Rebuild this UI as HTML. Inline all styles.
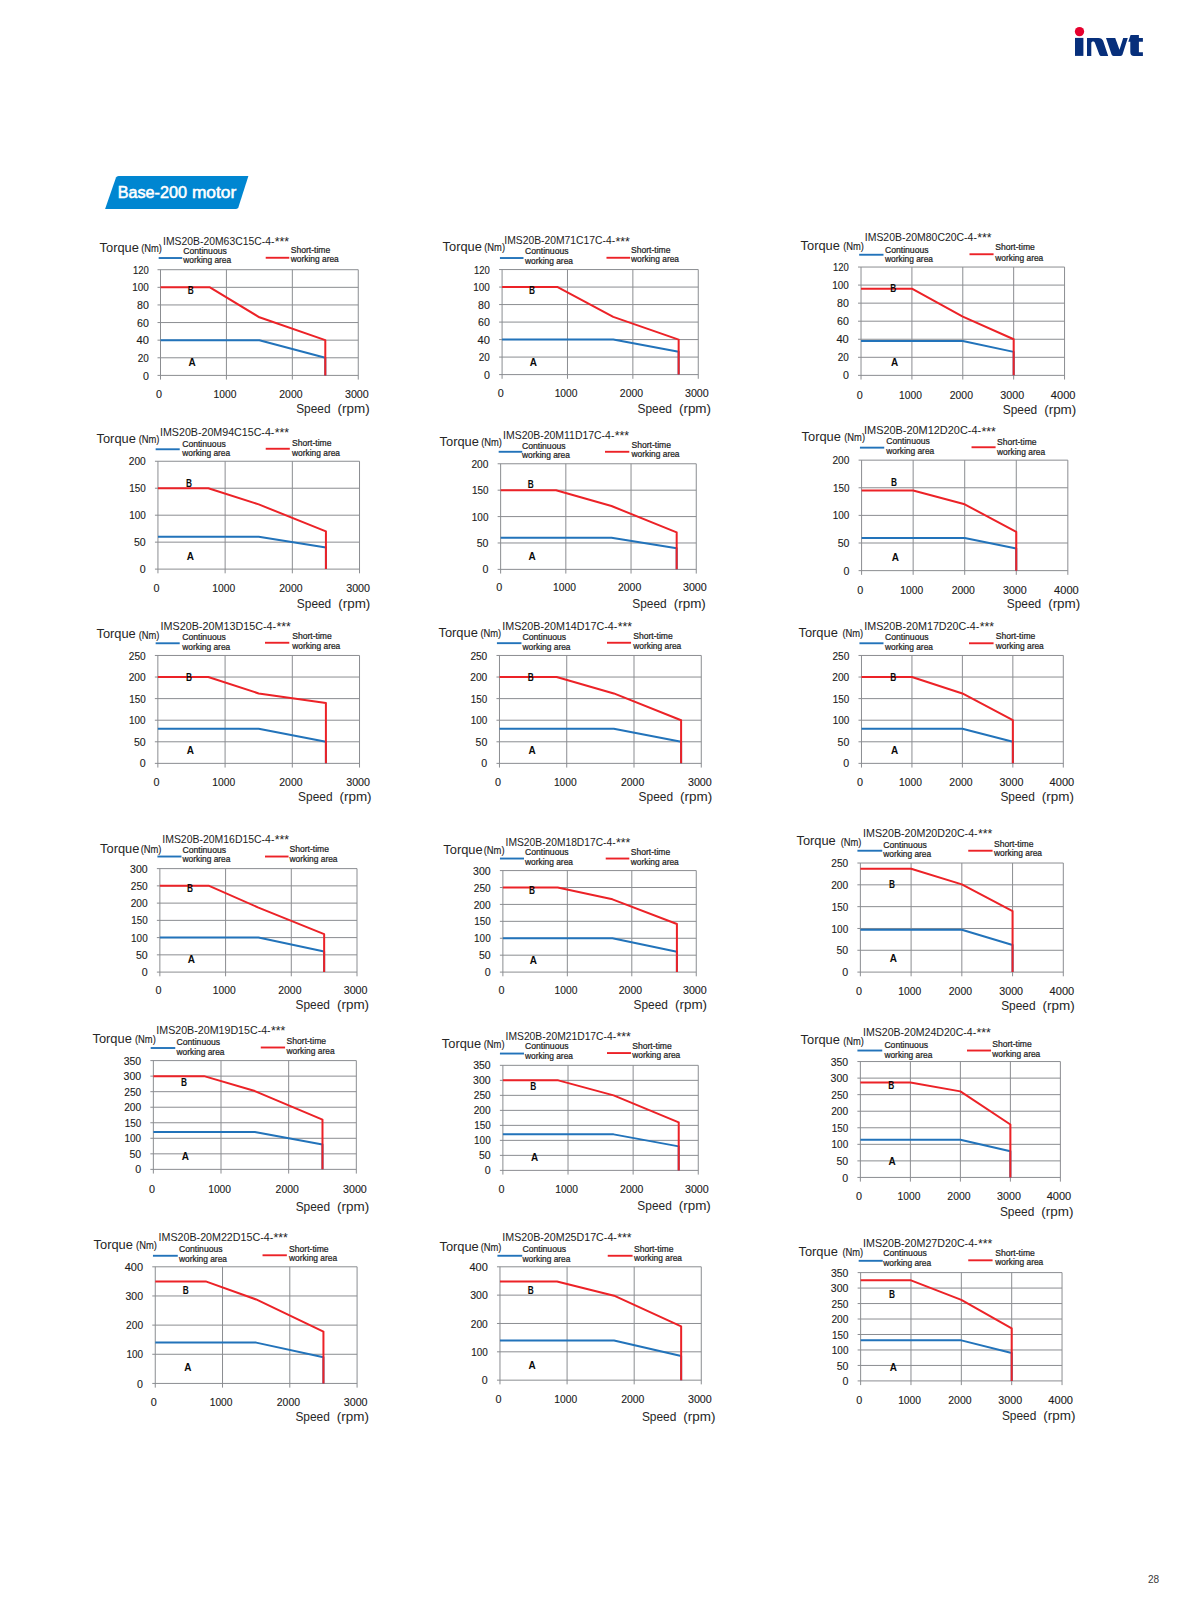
<!DOCTYPE html>
<html lang="en">
<head>
<meta charset="utf-8">
<title>Base-200 motor</title>
<style>
html,body{margin:0;padding:0;background:#fff;}
body{width:1191px;height:1614px;overflow:hidden;position:relative;font-family:"Liberation Sans",sans-serif;}
svg{position:absolute;left:0;top:0;display:block;}
svg text{font-family:"Liberation Sans",sans-serif;white-space:pre;}
</style>
</head>
<body>
<svg width="1191" height="1614" viewBox="0 0 1191 1614" fill="#1c1c1c">
<g><!-- invt logo -->
<circle cx="1079.5" cy="31.6" r="4.65" fill="#e6002d"/>
<g fill="#072f7b">
<rect x="1075" y="37.9" width="8.4" height="18"/>
<path d="M1087 37.9H1098.4C1101 37.9 1102.3 38.9 1103.1 40.8L1108.2 55.9H1100.9C1100 55.9 1099.5 55.3 1099.1 54.1L1094.9 42.8C1094.5 41.8 1094 41.4 1093.1 41.4C1092 41.4 1091.3 41.9 1091.3 43V55.9H1087Z"/>
<path d="M1106 37.9H1115.2L1119.5 49.7L1123.2 37.9H1127.8L1122.6 54.2C1122.2 55.4 1121.6 55.9 1120.4 55.9H1113.6C1112.6 55.9 1112 55.4 1111.5 54.2Z"/>
<path d="M1130.6 34.9H1138.9V38H1142.9V41.7H1138.9V52.2H1142.9V55.9H1134C1131.6 55.9 1130.3 54.6 1130.3 52V41.7H1128.3Z"/>
</g></g>
<g><!-- section badge -->
<path d="M118.6 175.9H248.4L238.4 207.3Q237.8 209.1 236 209.1H105.1L116 177.6Q116.6 175.9 118.6 175.9Z" fill="#0086d1"/>
<text y="197.6" font-size="16.4" fill="#fff" stroke="#fff" stroke-width="0.55"><tspan x="117.7" textLength="69.2" lengthAdjust="spacingAndGlyphs">Base-200</tspan> <tspan x="191.9" textLength="44.4" lengthAdjust="spacingAndGlyphs">motor</tspan></text>
</g>
<g><!-- chart 1 -->
<path d="M157.5 375.4H358.26M157.5 357.79H358.26M157.5 340.17H358.26M157.5 322.56H358.26M157.5 304.94H358.26M157.5 287.33H358.26M157.5 269.71H358.26M160.5 269.71V379.6M226.42 269.71V379.6M292.34 269.71V379.6M358.26 269.71V379.6" stroke="#8b8d91" stroke-width="1" fill="none"/>
<text x="148.9" y="379.5" font-size="10.4" text-anchor="end" textLength="5.92" lengthAdjust="spacingAndGlyphs" stroke="#1c1c1c" stroke-width="0.12">0</text>
<text x="148.9" y="361.89" font-size="10.4" text-anchor="end" textLength="11.06" lengthAdjust="spacingAndGlyphs" stroke="#1c1c1c" stroke-width="0.12">20</text>
<text x="148.9" y="344.27" font-size="10.4" text-anchor="end" textLength="12.42" lengthAdjust="spacingAndGlyphs" stroke="#1c1c1c" stroke-width="0.12">40</text>
<text x="148.9" y="326.66" font-size="10.4" text-anchor="end" textLength="11.83" lengthAdjust="spacingAndGlyphs" stroke="#1c1c1c" stroke-width="0.12">60</text>
<text x="148.9" y="309.04" font-size="10.4" text-anchor="end" textLength="11.83" lengthAdjust="spacingAndGlyphs" stroke="#1c1c1c" stroke-width="0.12">80</text>
<text x="148.9" y="291.43" font-size="10.4" text-anchor="end" textLength="16.59" lengthAdjust="spacingAndGlyphs" stroke="#1c1c1c" stroke-width="0.12">100</text>
<text x="148.9" y="273.81" font-size="10.4" text-anchor="end" textLength="15.81" lengthAdjust="spacingAndGlyphs" stroke="#1c1c1c" stroke-width="0.12">120</text>
<text x="159.1" y="397.85" font-size="10.4" text-anchor="middle" textLength="6.01" lengthAdjust="spacingAndGlyphs" stroke="#1c1c1c" stroke-width="0.12">0</text>
<text x="225.02" y="397.85" font-size="10.4" text-anchor="middle" textLength="22.85" lengthAdjust="spacingAndGlyphs" stroke="#1c1c1c" stroke-width="0.12">1000</text>
<text x="290.94" y="397.85" font-size="10.4" text-anchor="middle" textLength="23.25" lengthAdjust="spacingAndGlyphs" stroke="#1c1c1c" stroke-width="0.12">2000</text>
<text x="356.86" y="397.85" font-size="10.4" text-anchor="middle" textLength="23.84" lengthAdjust="spacingAndGlyphs" stroke="#1c1c1c" stroke-width="0.12">3000</text>
<text x="296.19" y="412.96" font-size="12.1" textLength="34.4" lengthAdjust="spacingAndGlyphs" fill="#262626">Speed</text>
<text x="337.59" y="412.96" font-size="12.1" textLength="32.1" lengthAdjust="spacingAndGlyphs" fill="#262626">(rpm)</text>
<text x="99.57" y="251.85" font-size="12.6" textLength="39.3" lengthAdjust="spacingAndGlyphs" fill="#262626">Torque</text>
<text x="141.19" y="252.05" font-size="10.1" textLength="20.8" lengthAdjust="spacingAndGlyphs" stroke="#1c1c1c" stroke-width="0.12">(Nm)</text>
<text x="163.05" y="244.79" font-size="10.5" textLength="111.34" lengthAdjust="spacingAndGlyphs">IMS20B-20M63C15C-4-</text>
<text x="274.69" y="246.09" font-size="12.6" textLength="14.3" lengthAdjust="spacingAndGlyphs">***</text>
<path d="M158.67 258.02H182.24" stroke="#2273ba" stroke-width="1.9"/>
<text x="183.2" y="253.87" font-size="8.6" textLength="43.6" lengthAdjust="spacingAndGlyphs" stroke="#1c1c1c" stroke-width="0.22">Continuous</text>
<text x="183.2" y="263.14" font-size="8.6" textLength="48" lengthAdjust="spacingAndGlyphs" stroke="#1c1c1c" stroke-width="0.22">working area</text>
<path d="M265.72 257.77H289.29" stroke="#ec2227" stroke-width="1.9"/>
<text x="290.76" y="252.87" font-size="8.6" textLength="39.5" lengthAdjust="spacingAndGlyphs" stroke="#1c1c1c" stroke-width="0.22">Short-time</text>
<text x="290.76" y="262.13" font-size="8.6" textLength="48" lengthAdjust="spacingAndGlyphs" stroke="#1c1c1c" stroke-width="0.22">working area</text>
<polyline points="160.5,340.17 259.38,340.17 325.3,357.79 325.3,375.4" stroke="#2273ba" stroke-width="2" fill="none" stroke-linejoin="round"/>
<polyline points="160.5,287.33 209.94,287.33 259.38,317.27 325.3,340.17 325.3,375.4" stroke="#ec2227" stroke-width="2" fill="none" stroke-linejoin="round"/>
<text x="190.76" y="294.02" font-size="11.4" text-anchor="middle" font-weight="bold" textLength="6" lengthAdjust="spacingAndGlyphs" fill="#0a0a0a">B</text>
<text x="192.02" y="366.06" font-size="11.4" text-anchor="middle" font-weight="bold" textLength="7.2" lengthAdjust="spacingAndGlyphs" fill="#0a0a0a">A</text>
</g>
<g><!-- chart 2 -->
<path d="M499.08 374.6H698.26M499.08 357.09H698.26M499.08 339.59H698.26M499.08 322.08H698.26M499.08 304.57H698.26M499.08 287.07H698.26M499.08 269.56H698.26M502.08 269.56V378.8M567.48 269.56V378.8M632.87 269.56V378.8M698.26 269.56V378.8" stroke="#8b8d91" stroke-width="1" fill="none"/>
<text x="489.88" y="378.7" font-size="10.4" text-anchor="end" textLength="5.92" lengthAdjust="spacingAndGlyphs" stroke="#1c1c1c" stroke-width="0.12">0</text>
<text x="489.88" y="361.19" font-size="10.4" text-anchor="end" textLength="11.06" lengthAdjust="spacingAndGlyphs" stroke="#1c1c1c" stroke-width="0.12">20</text>
<text x="489.88" y="343.69" font-size="10.4" text-anchor="end" textLength="12.42" lengthAdjust="spacingAndGlyphs" stroke="#1c1c1c" stroke-width="0.12">40</text>
<text x="489.88" y="326.18" font-size="10.4" text-anchor="end" textLength="11.83" lengthAdjust="spacingAndGlyphs" stroke="#1c1c1c" stroke-width="0.12">60</text>
<text x="489.88" y="308.67" font-size="10.4" text-anchor="end" textLength="11.83" lengthAdjust="spacingAndGlyphs" stroke="#1c1c1c" stroke-width="0.12">80</text>
<text x="489.88" y="291.17" font-size="10.4" text-anchor="end" textLength="16.59" lengthAdjust="spacingAndGlyphs" stroke="#1c1c1c" stroke-width="0.12">100</text>
<text x="489.88" y="273.66" font-size="10.4" text-anchor="end" textLength="15.81" lengthAdjust="spacingAndGlyphs" stroke="#1c1c1c" stroke-width="0.12">120</text>
<text x="500.68" y="397.09" font-size="10.4" text-anchor="middle" textLength="6.01" lengthAdjust="spacingAndGlyphs" stroke="#1c1c1c" stroke-width="0.12">0</text>
<text x="566.08" y="397.09" font-size="10.4" text-anchor="middle" textLength="22.85" lengthAdjust="spacingAndGlyphs" stroke="#1c1c1c" stroke-width="0.12">1000</text>
<text x="631.47" y="397.09" font-size="10.4" text-anchor="middle" textLength="23.25" lengthAdjust="spacingAndGlyphs" stroke="#1c1c1c" stroke-width="0.12">2000</text>
<text x="696.86" y="397.09" font-size="10.4" text-anchor="middle" textLength="23.84" lengthAdjust="spacingAndGlyphs" stroke="#1c1c1c" stroke-width="0.12">3000</text>
<text x="637.55" y="413.46" font-size="12.1" textLength="34.4" lengthAdjust="spacingAndGlyphs" fill="#262626">Speed</text>
<text x="678.95" y="413.46" font-size="12.1" textLength="32.1" lengthAdjust="spacingAndGlyphs" fill="#262626">(rpm)</text>
<text x="442.59" y="251.09" font-size="12.6" textLength="39.3" lengthAdjust="spacingAndGlyphs" fill="#262626">Torque</text>
<text x="484.21" y="251.29" font-size="10.1" textLength="20.8" lengthAdjust="spacingAndGlyphs" stroke="#1c1c1c" stroke-width="0.12">(Nm)</text>
<text x="504.31" y="244.29" font-size="10.5" textLength="110.84" lengthAdjust="spacingAndGlyphs">IMS20B-20M71C17C-4-</text>
<text x="615.45" y="245.59" font-size="12.6" textLength="14.3" lengthAdjust="spacingAndGlyphs">***</text>
<path d="M499.93 258.02H523.5" stroke="#2273ba" stroke-width="1.9"/>
<text x="524.96" y="253.87" font-size="8.6" textLength="43.6" lengthAdjust="spacingAndGlyphs" stroke="#1c1c1c" stroke-width="0.22">Continuous</text>
<text x="524.96" y="263.65" font-size="8.6" textLength="48" lengthAdjust="spacingAndGlyphs" stroke="#1c1c1c" stroke-width="0.22">working area</text>
<path d="M606.48 257.77H630.05" stroke="#ec2227" stroke-width="1.9"/>
<text x="631.01" y="252.87" font-size="8.6" textLength="39.5" lengthAdjust="spacingAndGlyphs" stroke="#1c1c1c" stroke-width="0.22">Short-time</text>
<text x="631.01" y="262.13" font-size="8.6" textLength="48" lengthAdjust="spacingAndGlyphs" stroke="#1c1c1c" stroke-width="0.22">working area</text>
<polyline points="502.08,339.59 613.25,339.59 678.65,351.84 678.65,374.6" stroke="#2273ba" stroke-width="2" fill="none" stroke-linejoin="round"/>
<polyline points="502.08,287.07 557.67,287.07 613.25,316.83 678.65,339.59 678.65,374.6" stroke="#ec2227" stroke-width="2" fill="none" stroke-linejoin="round"/>
<text x="532.02" y="293.51" font-size="11.4" text-anchor="middle" font-weight="bold" textLength="6" lengthAdjust="spacingAndGlyphs" fill="#0a0a0a">B</text>
<text x="533.27" y="366.06" font-size="11.4" text-anchor="middle" font-weight="bold" textLength="7.2" lengthAdjust="spacingAndGlyphs" fill="#0a0a0a">A</text>
</g>
<g><!-- chart 3 -->
<path d="M858.03 375.36H1064.56M858.03 357.3H1064.56M858.03 339.25H1064.56M858.03 321.2H1064.56M858.03 303.15H1064.56M858.03 285.09H1064.56M858.03 267.04H1064.56M861.03 267.04V379.56M911.91 267.04V379.56M962.79 267.04V379.56M1013.67 267.04V379.56M1064.56 267.04V379.56" stroke="#8b8d91" stroke-width="1" fill="none"/>
<text x="848.83" y="379.46" font-size="10.4" text-anchor="end" textLength="5.92" lengthAdjust="spacingAndGlyphs" stroke="#1c1c1c" stroke-width="0.12">0</text>
<text x="848.83" y="361.4" font-size="10.4" text-anchor="end" textLength="11.06" lengthAdjust="spacingAndGlyphs" stroke="#1c1c1c" stroke-width="0.12">20</text>
<text x="848.83" y="343.35" font-size="10.4" text-anchor="end" textLength="12.42" lengthAdjust="spacingAndGlyphs" stroke="#1c1c1c" stroke-width="0.12">40</text>
<text x="848.83" y="325.3" font-size="10.4" text-anchor="end" textLength="11.83" lengthAdjust="spacingAndGlyphs" stroke="#1c1c1c" stroke-width="0.12">60</text>
<text x="848.83" y="307.25" font-size="10.4" text-anchor="end" textLength="11.83" lengthAdjust="spacingAndGlyphs" stroke="#1c1c1c" stroke-width="0.12">80</text>
<text x="848.83" y="289.19" font-size="10.4" text-anchor="end" textLength="16.59" lengthAdjust="spacingAndGlyphs" stroke="#1c1c1c" stroke-width="0.12">100</text>
<text x="848.83" y="271.14" font-size="10.4" text-anchor="end" textLength="15.81" lengthAdjust="spacingAndGlyphs" stroke="#1c1c1c" stroke-width="0.12">120</text>
<text x="859.63" y="398.6" font-size="10.4" text-anchor="middle" textLength="6.01" lengthAdjust="spacingAndGlyphs" stroke="#1c1c1c" stroke-width="0.12">0</text>
<text x="910.51" y="398.6" font-size="10.4" text-anchor="middle" textLength="22.85" lengthAdjust="spacingAndGlyphs" stroke="#1c1c1c" stroke-width="0.12">1000</text>
<text x="961.39" y="398.6" font-size="10.4" text-anchor="middle" textLength="23.25" lengthAdjust="spacingAndGlyphs" stroke="#1c1c1c" stroke-width="0.12">2000</text>
<text x="1012.27" y="398.6" font-size="10.4" text-anchor="middle" textLength="23.84" lengthAdjust="spacingAndGlyphs" stroke="#1c1c1c" stroke-width="0.12">3000</text>
<text x="1063.16" y="398.6" font-size="10.4" text-anchor="middle" textLength="24.62" lengthAdjust="spacingAndGlyphs" stroke="#1c1c1c" stroke-width="0.12">4000</text>
<text x="1002.79" y="413.56" font-size="12.1" textLength="34.4" lengthAdjust="spacingAndGlyphs" fill="#262626">Speed</text>
<text x="1044.19" y="413.56" font-size="12.1" textLength="32.1" lengthAdjust="spacingAndGlyphs" fill="#262626">(rpm)</text>
<text x="800.58" y="249.83" font-size="12.6" textLength="39.3" lengthAdjust="spacingAndGlyphs" fill="#262626">Torque</text>
<text x="843.2" y="250.03" font-size="10.1" textLength="20.8" lengthAdjust="spacingAndGlyphs" stroke="#1c1c1c" stroke-width="0.12">(Nm)</text>
<text x="864.81" y="240.87" font-size="10.5" textLength="112.1" lengthAdjust="spacingAndGlyphs">IMS20B-20M80C20C-4-</text>
<text x="977.21" y="242.17" font-size="12.6" textLength="14.3" lengthAdjust="spacingAndGlyphs">***</text>
<path d="M859.17 254.75H883.5" stroke="#2273ba" stroke-width="1.9"/>
<text x="884.96" y="252.87" font-size="8.6" textLength="43.6" lengthAdjust="spacingAndGlyphs" stroke="#1c1c1c" stroke-width="0.22">Continuous</text>
<text x="884.96" y="262.13" font-size="8.6" textLength="48" lengthAdjust="spacingAndGlyphs" stroke="#1c1c1c" stroke-width="0.22">working area</text>
<path d="M969.5 254.24H993.57" stroke="#ec2227" stroke-width="1.9"/>
<text x="995.29" y="250.35" font-size="8.6" textLength="39.5" lengthAdjust="spacingAndGlyphs" stroke="#1c1c1c" stroke-width="0.22">Short-time</text>
<text x="995.29" y="260.62" font-size="8.6" textLength="48" lengthAdjust="spacingAndGlyphs" stroke="#1c1c1c" stroke-width="0.22">working area</text>
<polyline points="861.03,341.06 962.79,341.06 1013.67,351.89 1013.67,375.36" stroke="#2273ba" stroke-width="2" fill="none" stroke-linejoin="round"/>
<polyline points="861.03,288.71 911.91,288.71 962.79,316.69 1013.67,339.25 1013.67,375.36" stroke="#ec2227" stroke-width="2" fill="none" stroke-linejoin="round"/>
<text x="893.27" y="292.25" font-size="11.4" text-anchor="middle" font-weight="bold" textLength="6" lengthAdjust="spacingAndGlyphs" fill="#0a0a0a">B</text>
<text x="894.53" y="366.06" font-size="11.4" text-anchor="middle" font-weight="bold" textLength="7.2" lengthAdjust="spacingAndGlyphs" fill="#0a0a0a">A</text>
</g>
<g><!-- chart 4 -->
<path d="M154.95 569.12H359.52M154.95 542.15H359.52M154.95 515.19H359.52M154.95 488.22H359.52M154.95 461.26H359.52M157.95 461.26V573.32M225.14 461.26V573.32M292.33 461.26V573.32M359.52 461.26V573.32" stroke="#8b8d91" stroke-width="1" fill="none"/>
<text x="145.75" y="573.22" font-size="10.4" text-anchor="end" textLength="5.92" lengthAdjust="spacingAndGlyphs" stroke="#1c1c1c" stroke-width="0.12">0</text>
<text x="145.75" y="546.25" font-size="10.4" text-anchor="end" textLength="11.74" lengthAdjust="spacingAndGlyphs" stroke="#1c1c1c" stroke-width="0.12">50</text>
<text x="145.75" y="519.29" font-size="10.4" text-anchor="end" textLength="16.59" lengthAdjust="spacingAndGlyphs" stroke="#1c1c1c" stroke-width="0.12">100</text>
<text x="145.75" y="492.32" font-size="10.4" text-anchor="end" textLength="16.49" lengthAdjust="spacingAndGlyphs" stroke="#1c1c1c" stroke-width="0.12">150</text>
<text x="145.75" y="465.36" font-size="10.4" text-anchor="end" textLength="16.97" lengthAdjust="spacingAndGlyphs" stroke="#1c1c1c" stroke-width="0.12">200</text>
<text x="156.55" y="591.86" font-size="10.4" text-anchor="middle" textLength="6.01" lengthAdjust="spacingAndGlyphs" stroke="#1c1c1c" stroke-width="0.12">0</text>
<text x="223.74" y="591.86" font-size="10.4" text-anchor="middle" textLength="22.85" lengthAdjust="spacingAndGlyphs" stroke="#1c1c1c" stroke-width="0.12">1000</text>
<text x="290.93" y="591.86" font-size="10.4" text-anchor="middle" textLength="23.25" lengthAdjust="spacingAndGlyphs" stroke="#1c1c1c" stroke-width="0.12">2000</text>
<text x="358.12" y="591.86" font-size="10.4" text-anchor="middle" textLength="23.84" lengthAdjust="spacingAndGlyphs" stroke="#1c1c1c" stroke-width="0.12">3000</text>
<text x="296.85" y="607.73" font-size="12.1" textLength="34.4" lengthAdjust="spacingAndGlyphs" fill="#262626">Speed</text>
<text x="338.25" y="607.73" font-size="12.1" textLength="32.1" lengthAdjust="spacingAndGlyphs" fill="#262626">(rpm)</text>
<text x="96.56" y="443.09" font-size="12.6" textLength="39.3" lengthAdjust="spacingAndGlyphs" fill="#262626">Torque</text>
<text x="138.67" y="443.29" font-size="10.1" textLength="20.8" lengthAdjust="spacingAndGlyphs" stroke="#1c1c1c" stroke-width="0.12">(Nm)</text>
<text x="160.03" y="435.64" font-size="10.5" textLength="114.37" lengthAdjust="spacingAndGlyphs">IMS20B-20M94C15C-4-</text>
<text x="274.69" y="436.94" font-size="12.6" textLength="14.3" lengthAdjust="spacingAndGlyphs">***</text>
<path d="M155.65 449.27H179.72" stroke="#2273ba" stroke-width="1.9"/>
<text x="182.18" y="447.13" font-size="8.6" textLength="43.6" lengthAdjust="spacingAndGlyphs" stroke="#1c1c1c" stroke-width="0.22">Continuous</text>
<text x="182.18" y="456.4" font-size="8.6" textLength="48" lengthAdjust="spacingAndGlyphs" stroke="#1c1c1c" stroke-width="0.22">working area</text>
<path d="M265.72 448.76H289.8" stroke="#ec2227" stroke-width="1.9"/>
<text x="292.02" y="445.87" font-size="8.6" textLength="39.5" lengthAdjust="spacingAndGlyphs" stroke="#1c1c1c" stroke-width="0.22">Short-time</text>
<text x="292.02" y="455.65" font-size="8.6" textLength="48" lengthAdjust="spacingAndGlyphs" stroke="#1c1c1c" stroke-width="0.22">working area</text>
<polyline points="157.95,536.76 258.74,536.76 325.93,547.55 325.93,569.12" stroke="#2273ba" stroke-width="2" fill="none" stroke-linejoin="round"/>
<polyline points="157.95,488.22 208.35,488.22 258.74,504.4 325.93,531.37 325.93,569.12" stroke="#ec2227" stroke-width="2" fill="none" stroke-linejoin="round"/>
<text x="188.99" y="486.77" font-size="11.4" text-anchor="middle" font-weight="bold" textLength="6" lengthAdjust="spacingAndGlyphs" fill="#0a0a0a">B</text>
<text x="190.25" y="559.82" font-size="11.4" text-anchor="middle" font-weight="bold" textLength="7.2" lengthAdjust="spacingAndGlyphs" fill="#0a0a0a">A</text>
</g>
<g><!-- chart 5 -->
<path d="M497.63 569.37H696.25M497.63 542.97H696.25M497.63 516.58H696.25M497.63 490.18H696.25M497.63 463.78H696.25M500.63 463.78V573.57M565.83 463.78V573.57M631.04 463.78V573.57M696.25 463.78V573.57" stroke="#8b8d91" stroke-width="1" fill="none"/>
<text x="488.43" y="573.47" font-size="10.4" text-anchor="end" textLength="5.92" lengthAdjust="spacingAndGlyphs" stroke="#1c1c1c" stroke-width="0.12">0</text>
<text x="488.43" y="547.07" font-size="10.4" text-anchor="end" textLength="11.74" lengthAdjust="spacingAndGlyphs" stroke="#1c1c1c" stroke-width="0.12">50</text>
<text x="488.43" y="520.68" font-size="10.4" text-anchor="end" textLength="16.59" lengthAdjust="spacingAndGlyphs" stroke="#1c1c1c" stroke-width="0.12">100</text>
<text x="488.43" y="494.28" font-size="10.4" text-anchor="end" textLength="16.49" lengthAdjust="spacingAndGlyphs" stroke="#1c1c1c" stroke-width="0.12">150</text>
<text x="488.43" y="467.88" font-size="10.4" text-anchor="end" textLength="16.97" lengthAdjust="spacingAndGlyphs" stroke="#1c1c1c" stroke-width="0.12">200</text>
<text x="499.23" y="590.6" font-size="10.4" text-anchor="middle" textLength="6.01" lengthAdjust="spacingAndGlyphs" stroke="#1c1c1c" stroke-width="0.12">0</text>
<text x="564.43" y="590.6" font-size="10.4" text-anchor="middle" textLength="22.85" lengthAdjust="spacingAndGlyphs" stroke="#1c1c1c" stroke-width="0.12">1000</text>
<text x="629.64" y="590.6" font-size="10.4" text-anchor="middle" textLength="23.25" lengthAdjust="spacingAndGlyphs" stroke="#1c1c1c" stroke-width="0.12">2000</text>
<text x="694.85" y="590.6" font-size="10.4" text-anchor="middle" textLength="23.84" lengthAdjust="spacingAndGlyphs" stroke="#1c1c1c" stroke-width="0.12">3000</text>
<text x="632.32" y="607.73" font-size="12.1" textLength="34.4" lengthAdjust="spacingAndGlyphs" fill="#262626">Speed</text>
<text x="673.72" y="607.73" font-size="12.1" textLength="32.1" lengthAdjust="spacingAndGlyphs" fill="#262626">(rpm)</text>
<text x="439.58" y="446.11" font-size="12.6" textLength="39.3" lengthAdjust="spacingAndGlyphs" fill="#262626">Torque</text>
<text x="481.19" y="446.31" font-size="10.1" textLength="20.8" lengthAdjust="spacingAndGlyphs" stroke="#1c1c1c" stroke-width="0.12">(Nm)</text>
<text x="503.05" y="438.81" font-size="10.5" textLength="111.34" lengthAdjust="spacingAndGlyphs">IMS20B-20M11D17C-4-</text>
<text x="614.69" y="440.11" font-size="12.6" textLength="14.3" lengthAdjust="spacingAndGlyphs">***</text>
<path d="M498.67 451.79H522.24" stroke="#2273ba" stroke-width="1.9"/>
<text x="521.94" y="448.64" font-size="8.6" textLength="43.6" lengthAdjust="spacingAndGlyphs" stroke="#1c1c1c" stroke-width="0.22">Continuous</text>
<text x="521.94" y="458.16" font-size="8.6" textLength="48" lengthAdjust="spacingAndGlyphs" stroke="#1c1c1c" stroke-width="0.22">working area</text>
<path d="M604.97 451.79H629.29" stroke="#ec2227" stroke-width="1.9"/>
<text x="631.51" y="447.89" font-size="8.6" textLength="39.5" lengthAdjust="spacingAndGlyphs" stroke="#1c1c1c" stroke-width="0.22">Short-time</text>
<text x="631.51" y="457.41" font-size="8.6" textLength="48" lengthAdjust="spacingAndGlyphs" stroke="#1c1c1c" stroke-width="0.22">working area</text>
<polyline points="500.63,537.69 611.48,537.69 676.68,548.25 676.68,569.37" stroke="#2273ba" stroke-width="2" fill="none" stroke-linejoin="round"/>
<polyline points="500.63,490.18 556.05,490.18 611.48,506.02 676.68,532.41 676.68,569.37" stroke="#ec2227" stroke-width="2" fill="none" stroke-linejoin="round"/>
<text x="530.76" y="488.03" font-size="11.4" text-anchor="middle" font-weight="bold" textLength="6" lengthAdjust="spacingAndGlyphs" fill="#0a0a0a">B</text>
<text x="532.02" y="560.32" font-size="11.4" text-anchor="middle" font-weight="bold" textLength="7.2" lengthAdjust="spacingAndGlyphs" fill="#0a0a0a">A</text>
</g>
<g><!-- chart 6 -->
<path d="M858.59 570.63H1067.83M858.59 543.01H1067.83M858.59 515.39H1067.83M858.59 487.77H1067.83M858.59 460.15H1067.83M861.59 460.15V574.83M913.15 460.15V574.83M964.71 460.15V574.83M1016.27 460.15V574.83M1067.83 460.15V574.83" stroke="#8b8d91" stroke-width="1" fill="none"/>
<text x="849.39" y="574.73" font-size="10.4" text-anchor="end" textLength="5.92" lengthAdjust="spacingAndGlyphs" stroke="#1c1c1c" stroke-width="0.12">0</text>
<text x="849.39" y="547.11" font-size="10.4" text-anchor="end" textLength="11.74" lengthAdjust="spacingAndGlyphs" stroke="#1c1c1c" stroke-width="0.12">50</text>
<text x="849.39" y="519.49" font-size="10.4" text-anchor="end" textLength="16.59" lengthAdjust="spacingAndGlyphs" stroke="#1c1c1c" stroke-width="0.12">100</text>
<text x="849.39" y="491.87" font-size="10.4" text-anchor="end" textLength="16.49" lengthAdjust="spacingAndGlyphs" stroke="#1c1c1c" stroke-width="0.12">150</text>
<text x="849.39" y="464.25" font-size="10.4" text-anchor="end" textLength="16.97" lengthAdjust="spacingAndGlyphs" stroke="#1c1c1c" stroke-width="0.12">200</text>
<text x="860.19" y="594.13" font-size="10.4" text-anchor="middle" textLength="6.01" lengthAdjust="spacingAndGlyphs" stroke="#1c1c1c" stroke-width="0.12">0</text>
<text x="911.75" y="594.13" font-size="10.4" text-anchor="middle" textLength="22.85" lengthAdjust="spacingAndGlyphs" stroke="#1c1c1c" stroke-width="0.12">1000</text>
<text x="963.31" y="594.13" font-size="10.4" text-anchor="middle" textLength="23.25" lengthAdjust="spacingAndGlyphs" stroke="#1c1c1c" stroke-width="0.12">2000</text>
<text x="1014.87" y="594.13" font-size="10.4" text-anchor="middle" textLength="23.84" lengthAdjust="spacingAndGlyphs" stroke="#1c1c1c" stroke-width="0.12">3000</text>
<text x="1066.43" y="594.13" font-size="10.4" text-anchor="middle" textLength="24.62" lengthAdjust="spacingAndGlyphs" stroke="#1c1c1c" stroke-width="0.12">4000</text>
<text x="1006.77" y="608.24" font-size="12.1" textLength="34.4" lengthAdjust="spacingAndGlyphs" fill="#262626">Speed</text>
<text x="1048.17" y="608.24" font-size="12.1" textLength="32.1" lengthAdjust="spacingAndGlyphs" fill="#262626">(rpm)</text>
<text x="801.59" y="441.08" font-size="12.6" textLength="39.3" lengthAdjust="spacingAndGlyphs" fill="#262626">Torque</text>
<text x="844.21" y="441.28" font-size="10.1" textLength="20.8" lengthAdjust="spacingAndGlyphs" stroke="#1c1c1c" stroke-width="0.12">(Nm)</text>
<text x="864.01" y="434.28" font-size="10.5" textLength="117.14" lengthAdjust="spacingAndGlyphs">IMS20B-20M12D20C-4-</text>
<text x="981.45" y="435.58" font-size="12.6" textLength="14.3" lengthAdjust="spacingAndGlyphs">***</text>
<path d="M859.93 447.65H884.25" stroke="#2273ba" stroke-width="1.9"/>
<text x="886.22" y="444.11" font-size="8.6" textLength="43.6" lengthAdjust="spacingAndGlyphs" stroke="#1c1c1c" stroke-width="0.22">Continuous</text>
<text x="886.22" y="453.88" font-size="8.6" textLength="48" lengthAdjust="spacingAndGlyphs" stroke="#1c1c1c" stroke-width="0.22">working area</text>
<path d="M971.52 447.25H995.59" stroke="#ec2227" stroke-width="1.9"/>
<text x="997.05" y="445.37" font-size="8.6" textLength="39.5" lengthAdjust="spacingAndGlyphs" stroke="#1c1c1c" stroke-width="0.22">Short-time</text>
<text x="997.05" y="455.14" font-size="8.6" textLength="48" lengthAdjust="spacingAndGlyphs" stroke="#1c1c1c" stroke-width="0.22">working area</text>
<polyline points="861.59,538.04 964.71,538.04 1016.27,548.53 1016.27,570.63" stroke="#2273ba" stroke-width="2" fill="none" stroke-linejoin="round"/>
<polyline points="861.59,490.53 913.15,490.53 964.71,504.34 1016.27,531.96 1016.27,570.63" stroke="#ec2227" stroke-width="2" fill="none" stroke-linejoin="round"/>
<text x="894.03" y="485.51" font-size="11.4" text-anchor="middle" font-weight="bold" textLength="6" lengthAdjust="spacingAndGlyphs" fill="#0a0a0a">B</text>
<text x="895.29" y="561.08" font-size="11.4" text-anchor="middle" font-weight="bold" textLength="7.2" lengthAdjust="spacingAndGlyphs" fill="#0a0a0a">A</text>
</g>
<g><!-- chart 7 -->
<path d="M154.85 763.37H359.52M154.85 741.79H359.52M154.85 720.21H359.52M154.85 698.62H359.52M154.85 677.04H359.52M154.85 655.46H359.52M157.85 655.46V767.57M225.08 655.46V767.57M292.3 655.46V767.57M359.52 655.46V767.57" stroke="#8b8d91" stroke-width="1" fill="none"/>
<text x="145.65" y="767.47" font-size="10.4" text-anchor="end" textLength="5.92" lengthAdjust="spacingAndGlyphs" stroke="#1c1c1c" stroke-width="0.12">0</text>
<text x="145.65" y="745.89" font-size="10.4" text-anchor="end" textLength="11.74" lengthAdjust="spacingAndGlyphs" stroke="#1c1c1c" stroke-width="0.12">50</text>
<text x="145.65" y="724.31" font-size="10.4" text-anchor="end" textLength="16.59" lengthAdjust="spacingAndGlyphs" stroke="#1c1c1c" stroke-width="0.12">100</text>
<text x="145.65" y="702.72" font-size="10.4" text-anchor="end" textLength="16.49" lengthAdjust="spacingAndGlyphs" stroke="#1c1c1c" stroke-width="0.12">150</text>
<text x="145.65" y="681.14" font-size="10.4" text-anchor="end" textLength="16.97" lengthAdjust="spacingAndGlyphs" stroke="#1c1c1c" stroke-width="0.12">200</text>
<text x="145.65" y="659.56" font-size="10.4" text-anchor="end" textLength="16.88" lengthAdjust="spacingAndGlyphs" stroke="#1c1c1c" stroke-width="0.12">250</text>
<text x="156.45" y="785.86" font-size="10.4" text-anchor="middle" textLength="6.01" lengthAdjust="spacingAndGlyphs" stroke="#1c1c1c" stroke-width="0.12">0</text>
<text x="223.68" y="785.86" font-size="10.4" text-anchor="middle" textLength="22.85" lengthAdjust="spacingAndGlyphs" stroke="#1c1c1c" stroke-width="0.12">1000</text>
<text x="290.9" y="785.86" font-size="10.4" text-anchor="middle" textLength="23.25" lengthAdjust="spacingAndGlyphs" stroke="#1c1c1c" stroke-width="0.12">2000</text>
<text x="358.12" y="785.86" font-size="10.4" text-anchor="middle" textLength="23.84" lengthAdjust="spacingAndGlyphs" stroke="#1c1c1c" stroke-width="0.12">3000</text>
<text x="298.11" y="800.98" font-size="12.1" textLength="34.4" lengthAdjust="spacingAndGlyphs" fill="#262626">Speed</text>
<text x="339.51" y="800.98" font-size="12.1" textLength="32.1" lengthAdjust="spacingAndGlyphs" fill="#262626">(rpm)</text>
<text x="96.46" y="638.35" font-size="12.6" textLength="39.3" lengthAdjust="spacingAndGlyphs" fill="#262626">Torque</text>
<text x="138.67" y="638.55" font-size="10.1" textLength="20.8" lengthAdjust="spacingAndGlyphs" stroke="#1c1c1c" stroke-width="0.12">(Nm)</text>
<text x="160.53" y="629.54" font-size="10.5" textLength="115.63" lengthAdjust="spacingAndGlyphs">IMS20B-20M13D15C-4-</text>
<text x="276.45" y="630.84" font-size="12.6" textLength="14.3" lengthAdjust="spacingAndGlyphs">***</text>
<path d="M155.65 643.27H179.72" stroke="#2273ba" stroke-width="1.9"/>
<text x="182.24" y="639.87" font-size="8.6" textLength="43.6" lengthAdjust="spacingAndGlyphs" stroke="#1c1c1c" stroke-width="0.22">Continuous</text>
<text x="182.24" y="649.65" font-size="8.6" textLength="48" lengthAdjust="spacingAndGlyphs" stroke="#1c1c1c" stroke-width="0.22">working area</text>
<path d="M264.97 642.76H289.29" stroke="#ec2227" stroke-width="1.9"/>
<text x="292.27" y="638.87" font-size="8.6" textLength="39.5" lengthAdjust="spacingAndGlyphs" stroke="#1c1c1c" stroke-width="0.22">Short-time</text>
<text x="292.27" y="648.89" font-size="8.6" textLength="48" lengthAdjust="spacingAndGlyphs" stroke="#1c1c1c" stroke-width="0.22">working area</text>
<polyline points="157.85,728.84 258.69,728.84 325.91,741.79 325.91,763.37" stroke="#2273ba" stroke-width="2" fill="none" stroke-linejoin="round"/>
<polyline points="157.85,677.04 208.27,677.04 258.69,693.44 325.91,702.94 325.91,763.37" stroke="#ec2227" stroke-width="2" fill="none" stroke-linejoin="round"/>
<text x="188.99" y="680.77" font-size="11.4" text-anchor="middle" font-weight="bold" textLength="6" lengthAdjust="spacingAndGlyphs" fill="#0a0a0a">B</text>
<text x="190.25" y="753.82" font-size="11.4" text-anchor="middle" font-weight="bold" textLength="7.2" lengthAdjust="spacingAndGlyphs" fill="#0a0a0a">A</text>
</g>
<g><!-- chart 8 -->
<path d="M496.47 763.37H701.28M496.47 741.79H701.28M496.47 720.21H701.28M496.47 698.62H701.28M496.47 677.04H701.28M496.47 655.46H701.28M499.47 655.46V767.57M566.74 655.46V767.57M634.01 655.46V767.57M701.28 655.46V767.57" stroke="#8b8d91" stroke-width="1" fill="none"/>
<text x="487.27" y="767.47" font-size="10.4" text-anchor="end" textLength="5.92" lengthAdjust="spacingAndGlyphs" stroke="#1c1c1c" stroke-width="0.12">0</text>
<text x="487.27" y="745.89" font-size="10.4" text-anchor="end" textLength="11.74" lengthAdjust="spacingAndGlyphs" stroke="#1c1c1c" stroke-width="0.12">50</text>
<text x="487.27" y="724.31" font-size="10.4" text-anchor="end" textLength="16.59" lengthAdjust="spacingAndGlyphs" stroke="#1c1c1c" stroke-width="0.12">100</text>
<text x="487.27" y="702.72" font-size="10.4" text-anchor="end" textLength="16.49" lengthAdjust="spacingAndGlyphs" stroke="#1c1c1c" stroke-width="0.12">150</text>
<text x="487.27" y="681.14" font-size="10.4" text-anchor="end" textLength="16.97" lengthAdjust="spacingAndGlyphs" stroke="#1c1c1c" stroke-width="0.12">200</text>
<text x="487.27" y="659.56" font-size="10.4" text-anchor="end" textLength="16.88" lengthAdjust="spacingAndGlyphs" stroke="#1c1c1c" stroke-width="0.12">250</text>
<text x="498.07" y="785.86" font-size="10.4" text-anchor="middle" textLength="6.01" lengthAdjust="spacingAndGlyphs" stroke="#1c1c1c" stroke-width="0.12">0</text>
<text x="565.34" y="785.86" font-size="10.4" text-anchor="middle" textLength="22.85" lengthAdjust="spacingAndGlyphs" stroke="#1c1c1c" stroke-width="0.12">1000</text>
<text x="632.61" y="785.86" font-size="10.4" text-anchor="middle" textLength="23.25" lengthAdjust="spacingAndGlyphs" stroke="#1c1c1c" stroke-width="0.12">2000</text>
<text x="699.88" y="785.86" font-size="10.4" text-anchor="middle" textLength="23.84" lengthAdjust="spacingAndGlyphs" stroke="#1c1c1c" stroke-width="0.12">3000</text>
<text x="638.62" y="800.98" font-size="12.1" textLength="34.4" lengthAdjust="spacingAndGlyphs" fill="#262626">Speed</text>
<text x="680.02" y="800.98" font-size="12.1" textLength="32.1" lengthAdjust="spacingAndGlyphs" fill="#262626">(rpm)</text>
<text x="438.52" y="637.09" font-size="12.6" textLength="39.3" lengthAdjust="spacingAndGlyphs" fill="#262626">Torque</text>
<text x="480.43" y="637.29" font-size="10.1" textLength="20.8" lengthAdjust="spacingAndGlyphs" stroke="#1c1c1c" stroke-width="0.12">(Nm)</text>
<text x="502.29" y="629.54" font-size="10.5" textLength="115.12" lengthAdjust="spacingAndGlyphs">IMS20B-20M14D17C-4-</text>
<text x="617.71" y="630.84" font-size="12.6" textLength="14.3" lengthAdjust="spacingAndGlyphs">***</text>
<path d="M496.91 643.17H521.48" stroke="#2273ba" stroke-width="1.9"/>
<text x="522.54" y="639.87" font-size="8.6" textLength="43.6" lengthAdjust="spacingAndGlyphs" stroke="#1c1c1c" stroke-width="0.22">Continuous</text>
<text x="522.54" y="649.65" font-size="8.6" textLength="48" lengthAdjust="spacingAndGlyphs" stroke="#1c1c1c" stroke-width="0.22">working area</text>
<path d="M606.98 642.76H631.06" stroke="#ec2227" stroke-width="1.9"/>
<text x="633.27" y="638.87" font-size="8.6" textLength="39.5" lengthAdjust="spacingAndGlyphs" stroke="#1c1c1c" stroke-width="0.22">Short-time</text>
<text x="633.27" y="648.89" font-size="8.6" textLength="48" lengthAdjust="spacingAndGlyphs" stroke="#1c1c1c" stroke-width="0.22">working area</text>
<polyline points="499.47,728.84 613.83,728.84 681.1,741.79 681.1,763.37" stroke="#2273ba" stroke-width="2" fill="none" stroke-linejoin="round"/>
<polyline points="499.47,677.04 556.65,677.04 613.83,693.44 681.1,720.21 681.1,763.37" stroke="#ec2227" stroke-width="2" fill="none" stroke-linejoin="round"/>
<text x="530.76" y="680.77" font-size="11.4" text-anchor="middle" font-weight="bold" textLength="6" lengthAdjust="spacingAndGlyphs" fill="#0a0a0a">B</text>
<text x="532.02" y="753.82" font-size="11.4" text-anchor="middle" font-weight="bold" textLength="7.2" lengthAdjust="spacingAndGlyphs" fill="#0a0a0a">A</text>
</g>
<g><!-- chart 9 -->
<path d="M858.48 763.37H1063.3M858.48 741.79H1063.3M858.48 720.21H1063.3M858.48 698.62H1063.3M858.48 677.04H1063.3M858.48 655.46H1063.3M861.48 655.46V767.57M911.94 655.46V767.57M962.39 655.46V767.57M1012.85 655.46V767.57M1063.3 655.46V767.57" stroke="#8b8d91" stroke-width="1" fill="none"/>
<text x="849.28" y="767.47" font-size="10.4" text-anchor="end" textLength="5.92" lengthAdjust="spacingAndGlyphs" stroke="#1c1c1c" stroke-width="0.12">0</text>
<text x="849.28" y="745.89" font-size="10.4" text-anchor="end" textLength="11.74" lengthAdjust="spacingAndGlyphs" stroke="#1c1c1c" stroke-width="0.12">50</text>
<text x="849.28" y="724.31" font-size="10.4" text-anchor="end" textLength="16.59" lengthAdjust="spacingAndGlyphs" stroke="#1c1c1c" stroke-width="0.12">100</text>
<text x="849.28" y="702.72" font-size="10.4" text-anchor="end" textLength="16.49" lengthAdjust="spacingAndGlyphs" stroke="#1c1c1c" stroke-width="0.12">150</text>
<text x="849.28" y="681.14" font-size="10.4" text-anchor="end" textLength="16.97" lengthAdjust="spacingAndGlyphs" stroke="#1c1c1c" stroke-width="0.12">200</text>
<text x="849.28" y="659.56" font-size="10.4" text-anchor="end" textLength="16.88" lengthAdjust="spacingAndGlyphs" stroke="#1c1c1c" stroke-width="0.12">250</text>
<text x="860.08" y="785.86" font-size="10.4" text-anchor="middle" textLength="6.01" lengthAdjust="spacingAndGlyphs" stroke="#1c1c1c" stroke-width="0.12">0</text>
<text x="910.54" y="785.86" font-size="10.4" text-anchor="middle" textLength="22.85" lengthAdjust="spacingAndGlyphs" stroke="#1c1c1c" stroke-width="0.12">1000</text>
<text x="960.99" y="785.86" font-size="10.4" text-anchor="middle" textLength="23.25" lengthAdjust="spacingAndGlyphs" stroke="#1c1c1c" stroke-width="0.12">2000</text>
<text x="1011.45" y="785.86" font-size="10.4" text-anchor="middle" textLength="23.84" lengthAdjust="spacingAndGlyphs" stroke="#1c1c1c" stroke-width="0.12">3000</text>
<text x="1061.9" y="785.86" font-size="10.4" text-anchor="middle" textLength="24.62" lengthAdjust="spacingAndGlyphs" stroke="#1c1c1c" stroke-width="0.12">4000</text>
<text x="1000.38" y="800.98" font-size="12.1" textLength="34.4" lengthAdjust="spacingAndGlyphs" fill="#262626">Speed</text>
<text x="1041.78" y="800.98" font-size="12.1" textLength="32.1" lengthAdjust="spacingAndGlyphs" fill="#262626">(rpm)</text>
<text x="798.52" y="637.09" font-size="12.6" textLength="39.3" lengthAdjust="spacingAndGlyphs" fill="#262626">Torque</text>
<text x="842.45" y="637.29" font-size="10.1" textLength="20.8" lengthAdjust="spacingAndGlyphs" stroke="#1c1c1c" stroke-width="0.12">(Nm)</text>
<text x="864.31" y="629.54" font-size="10.5" textLength="115.12" lengthAdjust="spacingAndGlyphs">IMS20B-20M17D20C-4-</text>
<text x="979.73" y="630.84" font-size="12.6" textLength="14.3" lengthAdjust="spacingAndGlyphs">***</text>
<path d="M859.43 643.27H883.5" stroke="#2273ba" stroke-width="1.9"/>
<text x="884.96" y="639.87" font-size="8.6" textLength="43.6" lengthAdjust="spacingAndGlyphs" stroke="#1c1c1c" stroke-width="0.22">Continuous</text>
<text x="884.96" y="649.65" font-size="8.6" textLength="48" lengthAdjust="spacingAndGlyphs" stroke="#1c1c1c" stroke-width="0.22">working area</text>
<path d="M969 643.27H993.57" stroke="#ec2227" stroke-width="1.9"/>
<text x="995.79" y="638.87" font-size="8.6" textLength="39.5" lengthAdjust="spacingAndGlyphs" stroke="#1c1c1c" stroke-width="0.22">Short-time</text>
<text x="995.79" y="648.89" font-size="8.6" textLength="48" lengthAdjust="spacingAndGlyphs" stroke="#1c1c1c" stroke-width="0.22">working area</text>
<polyline points="861.48,728.84 962.39,728.84 1012.85,741.79 1012.85,763.37" stroke="#2273ba" stroke-width="2" fill="none" stroke-linejoin="round"/>
<polyline points="861.48,677.04 911.94,677.04 962.39,693.44 1012.85,720.21 1012.85,763.37" stroke="#ec2227" stroke-width="2" fill="none" stroke-linejoin="round"/>
<text x="893.27" y="680.77" font-size="11.4" text-anchor="middle" font-weight="bold" textLength="6" lengthAdjust="spacingAndGlyphs" fill="#0a0a0a">B</text>
<text x="894.53" y="753.82" font-size="11.4" text-anchor="middle" font-weight="bold" textLength="7.2" lengthAdjust="spacingAndGlyphs" fill="#0a0a0a">A</text>
</g>
<g><!-- chart 10 -->
<path d="M156.87 972.1H357M156.87 954.85H357M156.87 937.6H357M156.87 920.36H357M156.87 903.11H357M156.87 885.86H357M156.87 868.62H357M159.87 868.62V976.3M225.58 868.62V976.3M291.29 868.62V976.3M357 868.62V976.3" stroke="#8b8d91" stroke-width="1" fill="none"/>
<text x="147.67" y="976.2" font-size="10.4" text-anchor="end" textLength="5.92" lengthAdjust="spacingAndGlyphs" stroke="#1c1c1c" stroke-width="0.12">0</text>
<text x="147.67" y="958.95" font-size="10.4" text-anchor="end" textLength="11.74" lengthAdjust="spacingAndGlyphs" stroke="#1c1c1c" stroke-width="0.12">50</text>
<text x="147.67" y="941.7" font-size="10.4" text-anchor="end" textLength="16.59" lengthAdjust="spacingAndGlyphs" stroke="#1c1c1c" stroke-width="0.12">100</text>
<text x="147.67" y="924.46" font-size="10.4" text-anchor="end" textLength="16.49" lengthAdjust="spacingAndGlyphs" stroke="#1c1c1c" stroke-width="0.12">150</text>
<text x="147.67" y="907.21" font-size="10.4" text-anchor="end" textLength="16.97" lengthAdjust="spacingAndGlyphs" stroke="#1c1c1c" stroke-width="0.12">200</text>
<text x="147.67" y="889.96" font-size="10.4" text-anchor="end" textLength="16.88" lengthAdjust="spacingAndGlyphs" stroke="#1c1c1c" stroke-width="0.12">250</text>
<text x="147.67" y="872.72" font-size="10.4" text-anchor="end" textLength="17.56" lengthAdjust="spacingAndGlyphs" stroke="#1c1c1c" stroke-width="0.12">300</text>
<text x="158.47" y="994.08" font-size="10.4" text-anchor="middle" textLength="6.01" lengthAdjust="spacingAndGlyphs" stroke="#1c1c1c" stroke-width="0.12">0</text>
<text x="224.18" y="994.08" font-size="10.4" text-anchor="middle" textLength="22.85" lengthAdjust="spacingAndGlyphs" stroke="#1c1c1c" stroke-width="0.12">1000</text>
<text x="289.89" y="994.08" font-size="10.4" text-anchor="middle" textLength="23.25" lengthAdjust="spacingAndGlyphs" stroke="#1c1c1c" stroke-width="0.12">2000</text>
<text x="355.6" y="994.08" font-size="10.4" text-anchor="middle" textLength="23.84" lengthAdjust="spacingAndGlyphs" stroke="#1c1c1c" stroke-width="0.12">3000</text>
<text x="295.59" y="1009.2" font-size="12.1" textLength="34.4" lengthAdjust="spacingAndGlyphs" fill="#262626">Speed</text>
<text x="336.99" y="1009.2" font-size="12.1" textLength="32.1" lengthAdjust="spacingAndGlyphs" fill="#262626">(rpm)</text>
<text x="100.08" y="852.87" font-size="12.6" textLength="39.3" lengthAdjust="spacingAndGlyphs" fill="#262626">Torque</text>
<text x="140.69" y="853.07" font-size="10.1" textLength="20.8" lengthAdjust="spacingAndGlyphs" stroke="#1c1c1c" stroke-width="0.12">(Nm)</text>
<text x="162.29" y="842.79" font-size="10.5" textLength="112.1" lengthAdjust="spacingAndGlyphs">IMS20B-20M16D15C-4-</text>
<text x="274.69" y="844.09" font-size="12.6" textLength="14.3" lengthAdjust="spacingAndGlyphs">***</text>
<path d="M157.41 856.53H181.48" stroke="#2273ba" stroke-width="1.9"/>
<text x="182.44" y="853.13" font-size="8.6" textLength="43.6" lengthAdjust="spacingAndGlyphs" stroke="#1c1c1c" stroke-width="0.22">Continuous</text>
<text x="182.44" y="862.4" font-size="8.6" textLength="48" lengthAdjust="spacingAndGlyphs" stroke="#1c1c1c" stroke-width="0.22">working area</text>
<path d="M264.97 856.53H288.54" stroke="#ec2227" stroke-width="1.9"/>
<text x="289.5" y="851.87" font-size="8.6" textLength="39.5" lengthAdjust="spacingAndGlyphs" stroke="#1c1c1c" stroke-width="0.22">Short-time</text>
<text x="289.5" y="861.65" font-size="8.6" textLength="48" lengthAdjust="spacingAndGlyphs" stroke="#1c1c1c" stroke-width="0.22">working area</text>
<polyline points="159.87,937.6 258.44,937.6 324.15,951.4 324.15,972.1" stroke="#2273ba" stroke-width="2" fill="none" stroke-linejoin="round"/>
<polyline points="159.87,885.86 209.15,885.86 258.44,907.59 324.15,934.15 324.15,972.1" stroke="#ec2227" stroke-width="2" fill="none" stroke-linejoin="round"/>
<text x="190" y="891.51" font-size="11.4" text-anchor="middle" font-weight="bold" textLength="6" lengthAdjust="spacingAndGlyphs" fill="#0a0a0a">B</text>
<text x="191.26" y="963.3" font-size="11.4" text-anchor="middle" font-weight="bold" textLength="7.2" lengthAdjust="spacingAndGlyphs" fill="#0a0a0a">A</text>
</g>
<g><!-- chart 11 -->
<path d="M499.89 972.1H696.25M499.89 955.18H696.25M499.89 938.26H696.25M499.89 921.34H696.25M499.89 904.42H696.25M499.89 887.5H696.25M499.89 870.58H696.25M502.89 870.58V976.3M567.34 870.58V976.3M631.8 870.58V976.3M696.25 870.58V976.3" stroke="#8b8d91" stroke-width="1" fill="none"/>
<text x="490.69" y="976.2" font-size="10.4" text-anchor="end" textLength="5.92" lengthAdjust="spacingAndGlyphs" stroke="#1c1c1c" stroke-width="0.12">0</text>
<text x="490.69" y="959.28" font-size="10.4" text-anchor="end" textLength="11.74" lengthAdjust="spacingAndGlyphs" stroke="#1c1c1c" stroke-width="0.12">50</text>
<text x="490.69" y="942.36" font-size="10.4" text-anchor="end" textLength="16.59" lengthAdjust="spacingAndGlyphs" stroke="#1c1c1c" stroke-width="0.12">100</text>
<text x="490.69" y="925.44" font-size="10.4" text-anchor="end" textLength="16.49" lengthAdjust="spacingAndGlyphs" stroke="#1c1c1c" stroke-width="0.12">150</text>
<text x="490.69" y="908.52" font-size="10.4" text-anchor="end" textLength="16.97" lengthAdjust="spacingAndGlyphs" stroke="#1c1c1c" stroke-width="0.12">200</text>
<text x="490.69" y="891.6" font-size="10.4" text-anchor="end" textLength="16.88" lengthAdjust="spacingAndGlyphs" stroke="#1c1c1c" stroke-width="0.12">250</text>
<text x="490.69" y="874.68" font-size="10.4" text-anchor="end" textLength="17.56" lengthAdjust="spacingAndGlyphs" stroke="#1c1c1c" stroke-width="0.12">300</text>
<text x="501.49" y="994.08" font-size="10.4" text-anchor="middle" textLength="6.01" lengthAdjust="spacingAndGlyphs" stroke="#1c1c1c" stroke-width="0.12">0</text>
<text x="565.94" y="994.08" font-size="10.4" text-anchor="middle" textLength="22.85" lengthAdjust="spacingAndGlyphs" stroke="#1c1c1c" stroke-width="0.12">1000</text>
<text x="630.4" y="994.08" font-size="10.4" text-anchor="middle" textLength="23.25" lengthAdjust="spacingAndGlyphs" stroke="#1c1c1c" stroke-width="0.12">2000</text>
<text x="694.85" y="994.08" font-size="10.4" text-anchor="middle" textLength="23.84" lengthAdjust="spacingAndGlyphs" stroke="#1c1c1c" stroke-width="0.12">3000</text>
<text x="633.58" y="1009.2" font-size="12.1" textLength="34.4" lengthAdjust="spacingAndGlyphs" fill="#262626">Speed</text>
<text x="674.98" y="1009.2" font-size="12.1" textLength="32.1" lengthAdjust="spacingAndGlyphs" fill="#262626">(rpm)</text>
<text x="443.35" y="854.13" font-size="12.6" textLength="39.3" lengthAdjust="spacingAndGlyphs" fill="#262626">Torque</text>
<text x="483.71" y="854.33" font-size="10.1" textLength="20.8" lengthAdjust="spacingAndGlyphs" stroke="#1c1c1c" stroke-width="0.12">(Nm)</text>
<text x="505.57" y="845.57" font-size="10.5" textLength="110.09" lengthAdjust="spacingAndGlyphs">IMS20B-20M18D17C-4-</text>
<text x="615.95" y="846.87" font-size="12.6" textLength="14.3" lengthAdjust="spacingAndGlyphs">***</text>
<path d="M499.93 858.54H524" stroke="#2273ba" stroke-width="1.9"/>
<text x="524.96" y="855.15" font-size="8.6" textLength="43.6" lengthAdjust="spacingAndGlyphs" stroke="#1c1c1c" stroke-width="0.22">Continuous</text>
<text x="524.96" y="865.42" font-size="8.6" textLength="48" lengthAdjust="spacingAndGlyphs" stroke="#1c1c1c" stroke-width="0.22">working area</text>
<path d="M605.72 858.54H629.29" stroke="#ec2227" stroke-width="1.9"/>
<text x="630.76" y="854.64" font-size="8.6" textLength="39.5" lengthAdjust="spacingAndGlyphs" stroke="#1c1c1c" stroke-width="0.22">Short-time</text>
<text x="630.76" y="864.67" font-size="8.6" textLength="48" lengthAdjust="spacingAndGlyphs" stroke="#1c1c1c" stroke-width="0.22">working area</text>
<polyline points="502.89,938.26 612.46,938.26 676.91,951.79 676.91,972.1" stroke="#2273ba" stroke-width="2" fill="none" stroke-linejoin="round"/>
<polyline points="502.89,887.5 557.68,887.5 612.46,899.35 676.91,924.05 676.91,972.1" stroke="#ec2227" stroke-width="2" fill="none" stroke-linejoin="round"/>
<text x="532.02" y="894.03" font-size="11.4" text-anchor="middle" font-weight="bold" textLength="6" lengthAdjust="spacingAndGlyphs" fill="#0a0a0a">B</text>
<text x="533.27" y="964.06" font-size="11.4" text-anchor="middle" font-weight="bold" textLength="7.2" lengthAdjust="spacingAndGlyphs" fill="#0a0a0a">A</text>
</g>
<g><!-- chart 12 -->
<path d="M857.37 972.1H1063.3M857.37 950.28H1063.3M857.37 928.47H1063.3M857.37 906.65H1063.3M857.37 884.84H1063.3M857.37 863.03H1063.3M860.37 863.03V976.3M911.1 863.03V976.3M961.84 863.03V976.3M1012.57 863.03V976.3M1063.3 863.03V976.3" stroke="#8b8d91" stroke-width="1" fill="none"/>
<text x="848.17" y="976.2" font-size="10.4" text-anchor="end" textLength="5.92" lengthAdjust="spacingAndGlyphs" stroke="#1c1c1c" stroke-width="0.12">0</text>
<text x="848.17" y="954.38" font-size="10.4" text-anchor="end" textLength="11.74" lengthAdjust="spacingAndGlyphs" stroke="#1c1c1c" stroke-width="0.12">50</text>
<text x="848.17" y="932.57" font-size="10.4" text-anchor="end" textLength="16.59" lengthAdjust="spacingAndGlyphs" stroke="#1c1c1c" stroke-width="0.12">100</text>
<text x="848.17" y="910.75" font-size="10.4" text-anchor="end" textLength="16.49" lengthAdjust="spacingAndGlyphs" stroke="#1c1c1c" stroke-width="0.12">150</text>
<text x="848.17" y="888.94" font-size="10.4" text-anchor="end" textLength="16.97" lengthAdjust="spacingAndGlyphs" stroke="#1c1c1c" stroke-width="0.12">200</text>
<text x="848.17" y="867.13" font-size="10.4" text-anchor="end" textLength="16.88" lengthAdjust="spacingAndGlyphs" stroke="#1c1c1c" stroke-width="0.12">250</text>
<text x="858.97" y="995.09" font-size="10.4" text-anchor="middle" textLength="6.01" lengthAdjust="spacingAndGlyphs" stroke="#1c1c1c" stroke-width="0.12">0</text>
<text x="909.7" y="995.09" font-size="10.4" text-anchor="middle" textLength="22.85" lengthAdjust="spacingAndGlyphs" stroke="#1c1c1c" stroke-width="0.12">1000</text>
<text x="960.44" y="995.09" font-size="10.4" text-anchor="middle" textLength="23.25" lengthAdjust="spacingAndGlyphs" stroke="#1c1c1c" stroke-width="0.12">2000</text>
<text x="1011.17" y="995.09" font-size="10.4" text-anchor="middle" textLength="23.84" lengthAdjust="spacingAndGlyphs" stroke="#1c1c1c" stroke-width="0.12">3000</text>
<text x="1061.9" y="995.09" font-size="10.4" text-anchor="middle" textLength="24.62" lengthAdjust="spacingAndGlyphs" stroke="#1c1c1c" stroke-width="0.12">4000</text>
<text x="1001.13" y="1009.96" font-size="12.1" textLength="34.4" lengthAdjust="spacingAndGlyphs" fill="#262626">Speed</text>
<text x="1042.53" y="1009.96" font-size="12.1" textLength="32.1" lengthAdjust="spacingAndGlyphs" fill="#262626">(rpm)</text>
<text x="796.46" y="845.31" font-size="12.6" textLength="39.3" lengthAdjust="spacingAndGlyphs" fill="#262626">Torque</text>
<text x="840.63" y="845.51" font-size="10.1" textLength="20.8" lengthAdjust="spacingAndGlyphs" stroke="#1c1c1c" stroke-width="0.12">(Nm)</text>
<text x="863.05" y="837" font-size="10.5" textLength="114.62" lengthAdjust="spacingAndGlyphs">IMS20B-20M20D20C-4-</text>
<text x="977.97" y="838.3" font-size="12.6" textLength="14.3" lengthAdjust="spacingAndGlyphs">***</text>
<path d="M857.41 850.73H882.24" stroke="#2273ba" stroke-width="1.9"/>
<text x="883.2" y="848.1" font-size="8.6" textLength="43.6" lengthAdjust="spacingAndGlyphs" stroke="#1c1c1c" stroke-width="0.22">Continuous</text>
<text x="883.2" y="857.11" font-size="8.6" textLength="48" lengthAdjust="spacingAndGlyphs" stroke="#1c1c1c" stroke-width="0.22">working area</text>
<path d="M968.24 850.73H992.57" stroke="#ec2227" stroke-width="1.9"/>
<text x="994.03" y="846.84" font-size="8.6" textLength="39.5" lengthAdjust="spacingAndGlyphs" stroke="#1c1c1c" stroke-width="0.22">Short-time</text>
<text x="994.03" y="856.1" font-size="8.6" textLength="48" lengthAdjust="spacingAndGlyphs" stroke="#1c1c1c" stroke-width="0.22">working area</text>
<polyline points="860.37,929.78 961.84,929.78 1012.57,945.05 1012.57,972.1" stroke="#2273ba" stroke-width="2" fill="none" stroke-linejoin="round"/>
<polyline points="860.37,868.7 911.1,868.7 961.84,884.41 1012.57,911.02 1012.57,972.1" stroke="#ec2227" stroke-width="2" fill="none" stroke-linejoin="round"/>
<text x="892.02" y="888.24" font-size="11.4" text-anchor="middle" font-weight="bold" textLength="6" lengthAdjust="spacingAndGlyphs" fill="#0a0a0a">B</text>
<text x="893.27" y="962.04" font-size="11.4" text-anchor="middle" font-weight="bold" textLength="7.2" lengthAdjust="spacingAndGlyphs" fill="#0a0a0a">A</text>
</g>
<g><!-- chart 13 -->
<path d="M150.35 1169.37H356.32M150.35 1153.83H356.32M150.35 1138.29H356.32M150.35 1122.76H356.32M150.35 1107.22H356.32M150.35 1091.68H356.32M150.35 1076.14H356.32M150.35 1060.6H356.32M153.35 1060.6V1173.57M221.01 1060.6V1173.57M288.66 1060.6V1173.57M356.32 1060.6V1173.57" stroke="#8b8d91" stroke-width="1" fill="none"/>
<text x="141.15" y="1173.47" font-size="10.4" text-anchor="end" textLength="5.92" lengthAdjust="spacingAndGlyphs" stroke="#1c1c1c" stroke-width="0.12">0</text>
<text x="141.15" y="1157.93" font-size="10.4" text-anchor="end" textLength="11.74" lengthAdjust="spacingAndGlyphs" stroke="#1c1c1c" stroke-width="0.12">50</text>
<text x="141.15" y="1142.39" font-size="10.4" text-anchor="end" textLength="16.59" lengthAdjust="spacingAndGlyphs" stroke="#1c1c1c" stroke-width="0.12">100</text>
<text x="141.15" y="1126.86" font-size="10.4" text-anchor="end" textLength="16.49" lengthAdjust="spacingAndGlyphs" stroke="#1c1c1c" stroke-width="0.12">150</text>
<text x="141.15" y="1111.32" font-size="10.4" text-anchor="end" textLength="16.97" lengthAdjust="spacingAndGlyphs" stroke="#1c1c1c" stroke-width="0.12">200</text>
<text x="141.15" y="1095.78" font-size="10.4" text-anchor="end" textLength="16.88" lengthAdjust="spacingAndGlyphs" stroke="#1c1c1c" stroke-width="0.12">250</text>
<text x="141.15" y="1080.24" font-size="10.4" text-anchor="end" textLength="17.56" lengthAdjust="spacingAndGlyphs" stroke="#1c1c1c" stroke-width="0.12">300</text>
<text x="141.15" y="1064.7" font-size="10.4" text-anchor="end" textLength="17.46" lengthAdjust="spacingAndGlyphs" stroke="#1c1c1c" stroke-width="0.12">350</text>
<text x="151.95" y="1192.87" font-size="10.4" text-anchor="middle" textLength="6.01" lengthAdjust="spacingAndGlyphs" stroke="#1c1c1c" stroke-width="0.12">0</text>
<text x="219.61" y="1192.87" font-size="10.4" text-anchor="middle" textLength="22.85" lengthAdjust="spacingAndGlyphs" stroke="#1c1c1c" stroke-width="0.12">1000</text>
<text x="287.26" y="1192.87" font-size="10.4" text-anchor="middle" textLength="23.25" lengthAdjust="spacingAndGlyphs" stroke="#1c1c1c" stroke-width="0.12">2000</text>
<text x="354.92" y="1192.87" font-size="10.4" text-anchor="middle" textLength="23.84" lengthAdjust="spacingAndGlyphs" stroke="#1c1c1c" stroke-width="0.12">3000</text>
<text x="295.67" y="1210.8" font-size="12.1" textLength="34.4" lengthAdjust="spacingAndGlyphs" fill="#262626">Speed</text>
<text x="337.07" y="1210.8" font-size="12.1" textLength="32.1" lengthAdjust="spacingAndGlyphs" fill="#262626">(rpm)</text>
<text x="92.5" y="1043.09" font-size="12.6" textLength="39.3" lengthAdjust="spacingAndGlyphs" fill="#262626">Torque</text>
<text x="134.97" y="1043.29" font-size="10.1" textLength="20.8" lengthAdjust="spacingAndGlyphs" stroke="#1c1c1c" stroke-width="0.12">(Nm)</text>
<text x="156.32" y="1033.58" font-size="10.5" textLength="114.37" lengthAdjust="spacingAndGlyphs">IMS20B-20M19D15C-4-</text>
<text x="270.99" y="1034.88" font-size="12.6" textLength="14.3" lengthAdjust="spacingAndGlyphs">***</text>
<path d="M150.68 1048.01H175.26" stroke="#2273ba" stroke-width="1.9"/>
<text x="176.47" y="1044.87" font-size="8.6" textLength="43.6" lengthAdjust="spacingAndGlyphs" stroke="#1c1c1c" stroke-width="0.22">Continuous</text>
<text x="176.47" y="1054.89" font-size="8.6" textLength="48" lengthAdjust="spacingAndGlyphs" stroke="#1c1c1c" stroke-width="0.22">working area</text>
<path d="M260.76 1047.5H285.09" stroke="#ec2227" stroke-width="1.9"/>
<text x="286.55" y="1043.61" font-size="8.6" textLength="39.5" lengthAdjust="spacingAndGlyphs" stroke="#1c1c1c" stroke-width="0.22">Short-time</text>
<text x="286.55" y="1053.88" font-size="8.6" textLength="48" lengthAdjust="spacingAndGlyphs" stroke="#1c1c1c" stroke-width="0.22">working area</text>
<polyline points="153.35,1132.08 254.84,1132.08 322.49,1144.51 322.49,1169.37" stroke="#2273ba" stroke-width="2" fill="none" stroke-linejoin="round"/>
<polyline points="153.35,1076.14 204.09,1076.14 254.84,1091.06 322.49,1119.65 322.49,1169.37" stroke="#ec2227" stroke-width="2" fill="none" stroke-linejoin="round"/>
<text x="184.03" y="1085.51" font-size="11.4" text-anchor="middle" font-weight="bold" textLength="6" lengthAdjust="spacingAndGlyphs" fill="#0a0a0a">B</text>
<text x="185.29" y="1160.32" font-size="11.4" text-anchor="middle" font-weight="bold" textLength="7.2" lengthAdjust="spacingAndGlyphs" fill="#0a0a0a">A</text>
</g>
<g><!-- chart 14 -->
<path d="M499.89 1170.38H698.26M499.89 1155.37H698.26M499.89 1140.37H698.26M499.89 1125.36H698.26M499.89 1110.36H698.26M499.89 1095.35H698.26M499.89 1080.35H698.26M499.89 1065.34H698.26M502.89 1065.34V1174.58M568.02 1065.34V1174.58M633.14 1065.34V1174.58M698.26 1065.34V1174.58" stroke="#8b8d91" stroke-width="1" fill="none"/>
<text x="490.69" y="1174.48" font-size="10.4" text-anchor="end" textLength="5.92" lengthAdjust="spacingAndGlyphs" stroke="#1c1c1c" stroke-width="0.12">0</text>
<text x="490.69" y="1159.47" font-size="10.4" text-anchor="end" textLength="11.74" lengthAdjust="spacingAndGlyphs" stroke="#1c1c1c" stroke-width="0.12">50</text>
<text x="490.69" y="1144.47" font-size="10.4" text-anchor="end" textLength="16.59" lengthAdjust="spacingAndGlyphs" stroke="#1c1c1c" stroke-width="0.12">100</text>
<text x="490.69" y="1129.46" font-size="10.4" text-anchor="end" textLength="16.49" lengthAdjust="spacingAndGlyphs" stroke="#1c1c1c" stroke-width="0.12">150</text>
<text x="490.69" y="1114.46" font-size="10.4" text-anchor="end" textLength="16.97" lengthAdjust="spacingAndGlyphs" stroke="#1c1c1c" stroke-width="0.12">200</text>
<text x="490.69" y="1099.45" font-size="10.4" text-anchor="end" textLength="16.88" lengthAdjust="spacingAndGlyphs" stroke="#1c1c1c" stroke-width="0.12">250</text>
<text x="490.69" y="1084.45" font-size="10.4" text-anchor="end" textLength="17.56" lengthAdjust="spacingAndGlyphs" stroke="#1c1c1c" stroke-width="0.12">300</text>
<text x="490.69" y="1069.44" font-size="10.4" text-anchor="end" textLength="17.46" lengthAdjust="spacingAndGlyphs" stroke="#1c1c1c" stroke-width="0.12">350</text>
<text x="501.49" y="1192.87" font-size="10.4" text-anchor="middle" textLength="6.01" lengthAdjust="spacingAndGlyphs" stroke="#1c1c1c" stroke-width="0.12">0</text>
<text x="566.62" y="1192.87" font-size="10.4" text-anchor="middle" textLength="22.85" lengthAdjust="spacingAndGlyphs" stroke="#1c1c1c" stroke-width="0.12">1000</text>
<text x="631.74" y="1192.87" font-size="10.4" text-anchor="middle" textLength="23.25" lengthAdjust="spacingAndGlyphs" stroke="#1c1c1c" stroke-width="0.12">2000</text>
<text x="696.86" y="1192.87" font-size="10.4" text-anchor="middle" textLength="23.84" lengthAdjust="spacingAndGlyphs" stroke="#1c1c1c" stroke-width="0.12">3000</text>
<text x="637.36" y="1210" font-size="12.1" textLength="34.4" lengthAdjust="spacingAndGlyphs" fill="#262626">Speed</text>
<text x="678.76" y="1210" font-size="12.1" textLength="32.1" lengthAdjust="spacingAndGlyphs" fill="#262626">(rpm)</text>
<text x="441.84" y="1048.13" font-size="12.6" textLength="39.3" lengthAdjust="spacingAndGlyphs" fill="#262626">Torque</text>
<text x="483.71" y="1048.33" font-size="10.1" textLength="20.8" lengthAdjust="spacingAndGlyphs" stroke="#1c1c1c" stroke-width="0.12">(Nm)</text>
<text x="505.57" y="1039.57" font-size="10.5" textLength="110.59" lengthAdjust="spacingAndGlyphs">IMS20B-20M21D17C-4-</text>
<text x="616.46" y="1040.87" font-size="12.6" textLength="14.3" lengthAdjust="spacingAndGlyphs">***</text>
<path d="M499.93 1053.55H524" stroke="#2273ba" stroke-width="1.9"/>
<text x="524.96" y="1049.15" font-size="8.6" textLength="43.6" lengthAdjust="spacingAndGlyphs" stroke="#1c1c1c" stroke-width="0.22">Continuous</text>
<text x="524.96" y="1058.67" font-size="8.6" textLength="48" lengthAdjust="spacingAndGlyphs" stroke="#1c1c1c" stroke-width="0.22">working area</text>
<path d="M606.98 1053.05H631.06" stroke="#ec2227" stroke-width="1.9"/>
<text x="632.27" y="1048.64" font-size="8.6" textLength="39.5" lengthAdjust="spacingAndGlyphs" stroke="#1c1c1c" stroke-width="0.22">Short-time</text>
<text x="632.27" y="1058.16" font-size="8.6" textLength="48" lengthAdjust="spacingAndGlyphs" stroke="#1c1c1c" stroke-width="0.22">working area</text>
<polyline points="502.89,1134.37 613.6,1134.37 678.72,1146.37 678.72,1170.38" stroke="#2273ba" stroke-width="2" fill="none" stroke-linejoin="round"/>
<polyline points="502.89,1080.35 558.25,1080.35 613.6,1095.35 678.72,1122.36 678.72,1170.38" stroke="#ec2227" stroke-width="2" fill="none" stroke-linejoin="round"/>
<text x="533.27" y="1090.05" font-size="11.4" text-anchor="middle" font-weight="bold" textLength="6" lengthAdjust="spacingAndGlyphs" fill="#0a0a0a">B</text>
<text x="534.53" y="1161.08" font-size="11.4" text-anchor="middle" font-weight="bold" textLength="7.2" lengthAdjust="spacingAndGlyphs" fill="#0a0a0a">A</text>
</g>
<g><!-- chart 15 -->
<path d="M857.37 1177.43H1060.38M857.37 1160.88H1060.38M857.37 1144.33H1060.38M857.37 1127.77H1060.38M857.37 1111.22H1060.38M857.37 1094.67H1060.38M857.37 1078.11H1060.38M857.37 1061.56H1060.38M860.37 1061.56V1181.63M910.38 1061.56V1181.63M960.38 1061.56V1181.63M1010.38 1061.56V1181.63M1060.38 1061.56V1181.63" stroke="#8b8d91" stroke-width="1" fill="none"/>
<text x="848.17" y="1181.53" font-size="10.4" text-anchor="end" textLength="5.92" lengthAdjust="spacingAndGlyphs" stroke="#1c1c1c" stroke-width="0.12">0</text>
<text x="848.17" y="1164.98" font-size="10.4" text-anchor="end" textLength="11.74" lengthAdjust="spacingAndGlyphs" stroke="#1c1c1c" stroke-width="0.12">50</text>
<text x="848.17" y="1148.43" font-size="10.4" text-anchor="end" textLength="16.59" lengthAdjust="spacingAndGlyphs" stroke="#1c1c1c" stroke-width="0.12">100</text>
<text x="848.17" y="1131.87" font-size="10.4" text-anchor="end" textLength="16.49" lengthAdjust="spacingAndGlyphs" stroke="#1c1c1c" stroke-width="0.12">150</text>
<text x="848.17" y="1115.32" font-size="10.4" text-anchor="end" textLength="16.97" lengthAdjust="spacingAndGlyphs" stroke="#1c1c1c" stroke-width="0.12">200</text>
<text x="848.17" y="1098.77" font-size="10.4" text-anchor="end" textLength="16.88" lengthAdjust="spacingAndGlyphs" stroke="#1c1c1c" stroke-width="0.12">250</text>
<text x="848.17" y="1082.21" font-size="10.4" text-anchor="end" textLength="17.56" lengthAdjust="spacingAndGlyphs" stroke="#1c1c1c" stroke-width="0.12">300</text>
<text x="848.17" y="1065.66" font-size="10.4" text-anchor="end" textLength="17.46" lengthAdjust="spacingAndGlyphs" stroke="#1c1c1c" stroke-width="0.12">350</text>
<text x="858.97" y="1199.92" font-size="10.4" text-anchor="middle" textLength="6.01" lengthAdjust="spacingAndGlyphs" stroke="#1c1c1c" stroke-width="0.12">0</text>
<text x="908.98" y="1199.92" font-size="10.4" text-anchor="middle" textLength="22.85" lengthAdjust="spacingAndGlyphs" stroke="#1c1c1c" stroke-width="0.12">1000</text>
<text x="958.98" y="1199.92" font-size="10.4" text-anchor="middle" textLength="23.25" lengthAdjust="spacingAndGlyphs" stroke="#1c1c1c" stroke-width="0.12">2000</text>
<text x="1008.98" y="1199.92" font-size="10.4" text-anchor="middle" textLength="23.84" lengthAdjust="spacingAndGlyphs" stroke="#1c1c1c" stroke-width="0.12">3000</text>
<text x="1058.98" y="1199.92" font-size="10.4" text-anchor="middle" textLength="24.62" lengthAdjust="spacingAndGlyphs" stroke="#1c1c1c" stroke-width="0.12">4000</text>
<text x="999.88" y="1215.63" font-size="12.1" textLength="34.4" lengthAdjust="spacingAndGlyphs" fill="#262626">Speed</text>
<text x="1041.28" y="1215.63" font-size="12.1" textLength="32.1" lengthAdjust="spacingAndGlyphs" fill="#262626">(rpm)</text>
<text x="800.58" y="1044.41" font-size="12.6" textLength="39.3" lengthAdjust="spacingAndGlyphs" fill="#262626">Torque</text>
<text x="843.2" y="1044.61" font-size="10.1" textLength="20.8" lengthAdjust="spacingAndGlyphs" stroke="#1c1c1c" stroke-width="0.12">(Nm)</text>
<text x="863.05" y="1036.04" font-size="10.5" textLength="113.11" lengthAdjust="spacingAndGlyphs">IMS20B-20M24D20C-4-</text>
<text x="976.46" y="1037.34" font-size="12.6" textLength="14.3" lengthAdjust="spacingAndGlyphs">***</text>
<path d="M857.41 1050.53H882.24" stroke="#2273ba" stroke-width="1.9"/>
<text x="884.4" y="1047.89" font-size="8.6" textLength="43.6" lengthAdjust="spacingAndGlyphs" stroke="#1c1c1c" stroke-width="0.22">Continuous</text>
<text x="884.4" y="1057.66" font-size="8.6" textLength="48" lengthAdjust="spacingAndGlyphs" stroke="#1c1c1c" stroke-width="0.22">working area</text>
<path d="M966.98 1050.53H991.06" stroke="#ec2227" stroke-width="1.9"/>
<text x="992.27" y="1047.13" font-size="8.6" textLength="39.5" lengthAdjust="spacingAndGlyphs" stroke="#1c1c1c" stroke-width="0.22">Short-time</text>
<text x="992.27" y="1056.91" font-size="8.6" textLength="48" lengthAdjust="spacingAndGlyphs" stroke="#1c1c1c" stroke-width="0.22">working area</text>
<polyline points="860.37,1139.69 960.38,1139.69 1010.38,1151.28 1010.38,1177.43" stroke="#2273ba" stroke-width="2" fill="none" stroke-linejoin="round"/>
<polyline points="860.37,1082.42 910.38,1082.42 960.38,1091.36 1010.38,1124.46 1010.38,1177.43" stroke="#ec2227" stroke-width="2" fill="none" stroke-linejoin="round"/>
<text x="891.36" y="1088.69" font-size="11.4" text-anchor="middle" font-weight="bold" textLength="6" lengthAdjust="spacingAndGlyphs" fill="#0a0a0a">B</text>
<text x="892.02" y="1165.36" font-size="11.4" text-anchor="middle" font-weight="bold" textLength="7.2" lengthAdjust="spacingAndGlyphs" fill="#0a0a0a">A</text>
</g>
<g><!-- chart 16 -->
<path d="M152.26 1383.43H357.08M152.26 1354.27H357.08M152.26 1325.12H357.08M152.26 1295.96H357.08M152.26 1266.81H357.08M155.26 1266.81V1387.63M222.53 1266.81V1387.63M289.81 1266.81V1387.63M357.08 1266.81V1387.63" stroke="#8b8d91" stroke-width="1" fill="none"/>
<text x="143.06" y="1387.53" font-size="10.4" text-anchor="end" textLength="5.92" lengthAdjust="spacingAndGlyphs" stroke="#1c1c1c" stroke-width="0.12">0</text>
<text x="143.06" y="1358.37" font-size="10.4" text-anchor="end" textLength="16.59" lengthAdjust="spacingAndGlyphs" stroke="#1c1c1c" stroke-width="0.12">100</text>
<text x="143.06" y="1329.22" font-size="10.4" text-anchor="end" textLength="16.97" lengthAdjust="spacingAndGlyphs" stroke="#1c1c1c" stroke-width="0.12">200</text>
<text x="143.06" y="1300.06" font-size="10.4" text-anchor="end" textLength="17.56" lengthAdjust="spacingAndGlyphs" stroke="#1c1c1c" stroke-width="0.12">300</text>
<text x="143.06" y="1270.91" font-size="10.4" text-anchor="end" textLength="18.33" lengthAdjust="spacingAndGlyphs" stroke="#1c1c1c" stroke-width="0.12">400</text>
<text x="153.86" y="1405.92" font-size="10.4" text-anchor="middle" textLength="6.01" lengthAdjust="spacingAndGlyphs" stroke="#1c1c1c" stroke-width="0.12">0</text>
<text x="221.13" y="1405.92" font-size="10.4" text-anchor="middle" textLength="22.85" lengthAdjust="spacingAndGlyphs" stroke="#1c1c1c" stroke-width="0.12">1000</text>
<text x="288.41" y="1405.92" font-size="10.4" text-anchor="middle" textLength="23.25" lengthAdjust="spacingAndGlyphs" stroke="#1c1c1c" stroke-width="0.12">2000</text>
<text x="355.68" y="1405.92" font-size="10.4" text-anchor="middle" textLength="23.84" lengthAdjust="spacingAndGlyphs" stroke="#1c1c1c" stroke-width="0.12">3000</text>
<text x="295.42" y="1420.54" font-size="12.1" textLength="34.4" lengthAdjust="spacingAndGlyphs" fill="#262626">Speed</text>
<text x="336.82" y="1420.54" font-size="12.1" textLength="32.1" lengthAdjust="spacingAndGlyphs" fill="#262626">(rpm)</text>
<text x="93.61" y="1249.09" font-size="12.6" textLength="39.3" lengthAdjust="spacingAndGlyphs" fill="#262626">Torque</text>
<text x="136.12" y="1249.29" font-size="10.1" textLength="20.8" lengthAdjust="spacingAndGlyphs" stroke="#1c1c1c" stroke-width="0.12">(Nm)</text>
<text x="158.59" y="1241.03" font-size="10.5" textLength="114.62" lengthAdjust="spacingAndGlyphs">IMS20B-20M22D15C-4-</text>
<text x="273.51" y="1242.33" font-size="12.6" textLength="14.3" lengthAdjust="spacingAndGlyphs">***</text>
<path d="M152.95 1255.77H177.78" stroke="#2273ba" stroke-width="1.9"/>
<text x="178.99" y="1251.87" font-size="8.6" textLength="43.6" lengthAdjust="spacingAndGlyphs" stroke="#1c1c1c" stroke-width="0.22">Continuous</text>
<text x="178.99" y="1261.65" font-size="8.6" textLength="48" lengthAdjust="spacingAndGlyphs" stroke="#1c1c1c" stroke-width="0.22">working area</text>
<path d="M262.52 1255.27H286.85" stroke="#ec2227" stroke-width="1.9"/>
<text x="289.07" y="1251.87" font-size="8.6" textLength="39.5" lengthAdjust="spacingAndGlyphs" stroke="#1c1c1c" stroke-width="0.22">Short-time</text>
<text x="289.07" y="1261.14" font-size="8.6" textLength="48" lengthAdjust="spacingAndGlyphs" stroke="#1c1c1c" stroke-width="0.22">working area</text>
<polyline points="155.26,1342.61 256.17,1342.61 323.44,1357.19 323.44,1383.43" stroke="#2273ba" stroke-width="2" fill="none" stroke-linejoin="round"/>
<polyline points="155.26,1281.38 205.72,1281.38 256.17,1299.46 323.44,1331.53 323.44,1383.43" stroke="#ec2227" stroke-width="2" fill="none" stroke-linejoin="round"/>
<text x="185.79" y="1294.03" font-size="11.4" text-anchor="middle" font-weight="bold" textLength="6" lengthAdjust="spacingAndGlyphs" fill="#0a0a0a">B</text>
<text x="187.81" y="1370.86" font-size="11.4" text-anchor="middle" font-weight="bold" textLength="7.2" lengthAdjust="spacingAndGlyphs" fill="#0a0a0a">A</text>
</g>
<g><!-- chart 17 -->
<path d="M496.97 1380.16H701.28M496.97 1351.82H701.28M496.97 1323.48H701.28M496.97 1295.14H701.28M496.97 1266.81H701.28M499.97 1266.81V1384.36M567.08 1266.81V1384.36M634.18 1266.81V1384.36M701.28 1266.81V1384.36" stroke="#8b8d91" stroke-width="1" fill="none"/>
<text x="487.77" y="1384.26" font-size="10.4" text-anchor="end" textLength="5.92" lengthAdjust="spacingAndGlyphs" stroke="#1c1c1c" stroke-width="0.12">0</text>
<text x="487.77" y="1355.92" font-size="10.4" text-anchor="end" textLength="16.59" lengthAdjust="spacingAndGlyphs" stroke="#1c1c1c" stroke-width="0.12">100</text>
<text x="487.77" y="1327.58" font-size="10.4" text-anchor="end" textLength="16.97" lengthAdjust="spacingAndGlyphs" stroke="#1c1c1c" stroke-width="0.12">200</text>
<text x="487.77" y="1299.24" font-size="10.4" text-anchor="end" textLength="17.56" lengthAdjust="spacingAndGlyphs" stroke="#1c1c1c" stroke-width="0.12">300</text>
<text x="487.77" y="1270.91" font-size="10.4" text-anchor="end" textLength="18.33" lengthAdjust="spacingAndGlyphs" stroke="#1c1c1c" stroke-width="0.12">400</text>
<text x="498.57" y="1402.9" font-size="10.4" text-anchor="middle" textLength="6.01" lengthAdjust="spacingAndGlyphs" stroke="#1c1c1c" stroke-width="0.12">0</text>
<text x="565.68" y="1402.9" font-size="10.4" text-anchor="middle" textLength="22.85" lengthAdjust="spacingAndGlyphs" stroke="#1c1c1c" stroke-width="0.12">1000</text>
<text x="632.78" y="1402.9" font-size="10.4" text-anchor="middle" textLength="23.25" lengthAdjust="spacingAndGlyphs" stroke="#1c1c1c" stroke-width="0.12">2000</text>
<text x="699.88" y="1402.9" font-size="10.4" text-anchor="middle" textLength="23.84" lengthAdjust="spacingAndGlyphs" stroke="#1c1c1c" stroke-width="0.12">3000</text>
<text x="641.89" y="1420.63" font-size="12.1" textLength="34.4" lengthAdjust="spacingAndGlyphs" fill="#262626">Speed</text>
<text x="683.29" y="1420.63" font-size="12.1" textLength="32.1" lengthAdjust="spacingAndGlyphs" fill="#262626">(rpm)</text>
<text x="439.48" y="1250.85" font-size="12.6" textLength="39.3" lengthAdjust="spacingAndGlyphs" fill="#262626">Torque</text>
<text x="480.68" y="1251.05" font-size="10.1" textLength="20.8" lengthAdjust="spacingAndGlyphs" stroke="#1c1c1c" stroke-width="0.12">(Nm)</text>
<text x="502.29" y="1241.03" font-size="10.5" textLength="114.62" lengthAdjust="spacingAndGlyphs">IMS20B-20M25D17C-4-</text>
<text x="617.21" y="1242.33" font-size="12.6" textLength="14.3" lengthAdjust="spacingAndGlyphs">***</text>
<path d="M497.41 1255.77H522.24" stroke="#2273ba" stroke-width="1.9"/>
<text x="522.44" y="1251.87" font-size="8.6" textLength="43.6" lengthAdjust="spacingAndGlyphs" stroke="#1c1c1c" stroke-width="0.22">Continuous</text>
<text x="522.44" y="1261.65" font-size="8.6" textLength="48" lengthAdjust="spacingAndGlyphs" stroke="#1c1c1c" stroke-width="0.22">working area</text>
<path d="M607.74 1255.77H632.57" stroke="#ec2227" stroke-width="1.9"/>
<text x="634.03" y="1251.87" font-size="8.6" textLength="39.5" lengthAdjust="spacingAndGlyphs" stroke="#1c1c1c" stroke-width="0.22">Short-time</text>
<text x="634.03" y="1261.14" font-size="8.6" textLength="48" lengthAdjust="spacingAndGlyphs" stroke="#1c1c1c" stroke-width="0.22">working area</text>
<polyline points="499.97,1340.48 614.05,1340.48 681.15,1356.07 681.15,1380.16" stroke="#2273ba" stroke-width="2" fill="none" stroke-linejoin="round"/>
<polyline points="499.97,1281.54 557.01,1281.54 614.05,1295.71 681.15,1326.31 681.15,1380.16" stroke="#ec2227" stroke-width="2" fill="none" stroke-linejoin="round"/>
<text x="530.76" y="1294.03" font-size="11.4" text-anchor="middle" font-weight="bold" textLength="6" lengthAdjust="spacingAndGlyphs" fill="#0a0a0a">B</text>
<text x="532.02" y="1369.09" font-size="11.4" text-anchor="middle" font-weight="bold" textLength="7.2" lengthAdjust="spacingAndGlyphs" fill="#0a0a0a">A</text>
</g>
<g><!-- chart 18 -->
<path d="M857.63 1380.91H1062.04M857.63 1365.44H1062.04M857.63 1349.97H1062.04M857.63 1334.49H1062.04M857.63 1319.02H1062.04M857.63 1303.55H1062.04M857.63 1288.07H1062.04M857.63 1272.6H1062.04M860.63 1272.6V1385.11M910.98 1272.6V1385.11M961.33 1272.6V1385.11M1011.69 1272.6V1385.11M1062.04 1272.6V1385.11" stroke="#8b8d91" stroke-width="1" fill="none"/>
<text x="848.43" y="1385.01" font-size="10.4" text-anchor="end" textLength="5.92" lengthAdjust="spacingAndGlyphs" stroke="#1c1c1c" stroke-width="0.12">0</text>
<text x="848.43" y="1369.54" font-size="10.4" text-anchor="end" textLength="11.74" lengthAdjust="spacingAndGlyphs" stroke="#1c1c1c" stroke-width="0.12">50</text>
<text x="848.43" y="1354.07" font-size="10.4" text-anchor="end" textLength="16.59" lengthAdjust="spacingAndGlyphs" stroke="#1c1c1c" stroke-width="0.12">100</text>
<text x="848.43" y="1338.59" font-size="10.4" text-anchor="end" textLength="16.49" lengthAdjust="spacingAndGlyphs" stroke="#1c1c1c" stroke-width="0.12">150</text>
<text x="848.43" y="1323.12" font-size="10.4" text-anchor="end" textLength="16.97" lengthAdjust="spacingAndGlyphs" stroke="#1c1c1c" stroke-width="0.12">200</text>
<text x="848.43" y="1307.65" font-size="10.4" text-anchor="end" textLength="16.88" lengthAdjust="spacingAndGlyphs" stroke="#1c1c1c" stroke-width="0.12">250</text>
<text x="848.43" y="1292.17" font-size="10.4" text-anchor="end" textLength="17.56" lengthAdjust="spacingAndGlyphs" stroke="#1c1c1c" stroke-width="0.12">300</text>
<text x="848.43" y="1276.7" font-size="10.4" text-anchor="end" textLength="17.46" lengthAdjust="spacingAndGlyphs" stroke="#1c1c1c" stroke-width="0.12">350</text>
<text x="859.23" y="1403.91" font-size="10.4" text-anchor="middle" textLength="6.01" lengthAdjust="spacingAndGlyphs" stroke="#1c1c1c" stroke-width="0.12">0</text>
<text x="909.58" y="1403.91" font-size="10.4" text-anchor="middle" textLength="22.85" lengthAdjust="spacingAndGlyphs" stroke="#1c1c1c" stroke-width="0.12">1000</text>
<text x="959.93" y="1403.91" font-size="10.4" text-anchor="middle" textLength="23.25" lengthAdjust="spacingAndGlyphs" stroke="#1c1c1c" stroke-width="0.12">2000</text>
<text x="1010.29" y="1403.91" font-size="10.4" text-anchor="middle" textLength="23.84" lengthAdjust="spacingAndGlyphs" stroke="#1c1c1c" stroke-width="0.12">3000</text>
<text x="1060.64" y="1403.91" font-size="10.4" text-anchor="middle" textLength="24.62" lengthAdjust="spacingAndGlyphs" stroke="#1c1c1c" stroke-width="0.12">4000</text>
<text x="1001.89" y="1420.03" font-size="12.1" textLength="34.4" lengthAdjust="spacingAndGlyphs" fill="#262626">Speed</text>
<text x="1043.29" y="1420.03" font-size="12.1" textLength="32.1" lengthAdjust="spacingAndGlyphs" fill="#262626">(rpm)</text>
<text x="798.52" y="1256.14" font-size="12.6" textLength="39.3" lengthAdjust="spacingAndGlyphs" fill="#262626">Torque</text>
<text x="842.45" y="1256.34" font-size="10.1" textLength="20.8" lengthAdjust="spacingAndGlyphs" stroke="#1c1c1c" stroke-width="0.12">(Nm)</text>
<text x="863.05" y="1247.08" font-size="10.5" textLength="114.62" lengthAdjust="spacingAndGlyphs">IMS20B-20M27D20C-4-</text>
<text x="977.97" y="1248.38" font-size="12.6" textLength="14.3" lengthAdjust="spacingAndGlyphs">***</text>
<path d="M858.67 1260.81H882.74" stroke="#2273ba" stroke-width="1.9"/>
<text x="883.2" y="1256.41" font-size="8.6" textLength="43.6" lengthAdjust="spacingAndGlyphs" stroke="#1c1c1c" stroke-width="0.22">Continuous</text>
<text x="883.2" y="1266.18" font-size="8.6" textLength="48" lengthAdjust="spacingAndGlyphs" stroke="#1c1c1c" stroke-width="0.22">working area</text>
<path d="M968.24 1260.31H992.57" stroke="#ec2227" stroke-width="1.9"/>
<text x="995.29" y="1255.65" font-size="8.6" textLength="39.5" lengthAdjust="spacingAndGlyphs" stroke="#1c1c1c" stroke-width="0.22">Short-time</text>
<text x="995.29" y="1265.42" font-size="8.6" textLength="48" lengthAdjust="spacingAndGlyphs" stroke="#1c1c1c" stroke-width="0.22">working area</text>
<polyline points="860.63,1340.37 961.33,1340.37 1011.69,1353.06 1011.69,1380.91" stroke="#2273ba" stroke-width="2" fill="none" stroke-linejoin="round"/>
<polyline points="860.63,1280.34 910.98,1280.34 961.33,1299.83 1011.69,1328.3 1011.69,1380.91" stroke="#ec2227" stroke-width="2" fill="none" stroke-linejoin="round"/>
<text x="892.02" y="1297.81" font-size="11.4" text-anchor="middle" font-weight="bold" textLength="6" lengthAdjust="spacingAndGlyphs" fill="#0a0a0a">B</text>
<text x="893.27" y="1371.36" font-size="11.4" text-anchor="middle" font-weight="bold" textLength="7.2" lengthAdjust="spacingAndGlyphs" fill="#0a0a0a">A</text>
</g>
<text x="1148" y="1582.9" font-size="10.6" fill="#3a3a3a" textLength="11.2" lengthAdjust="spacingAndGlyphs">28</text>
</svg>
</body>
</html>
